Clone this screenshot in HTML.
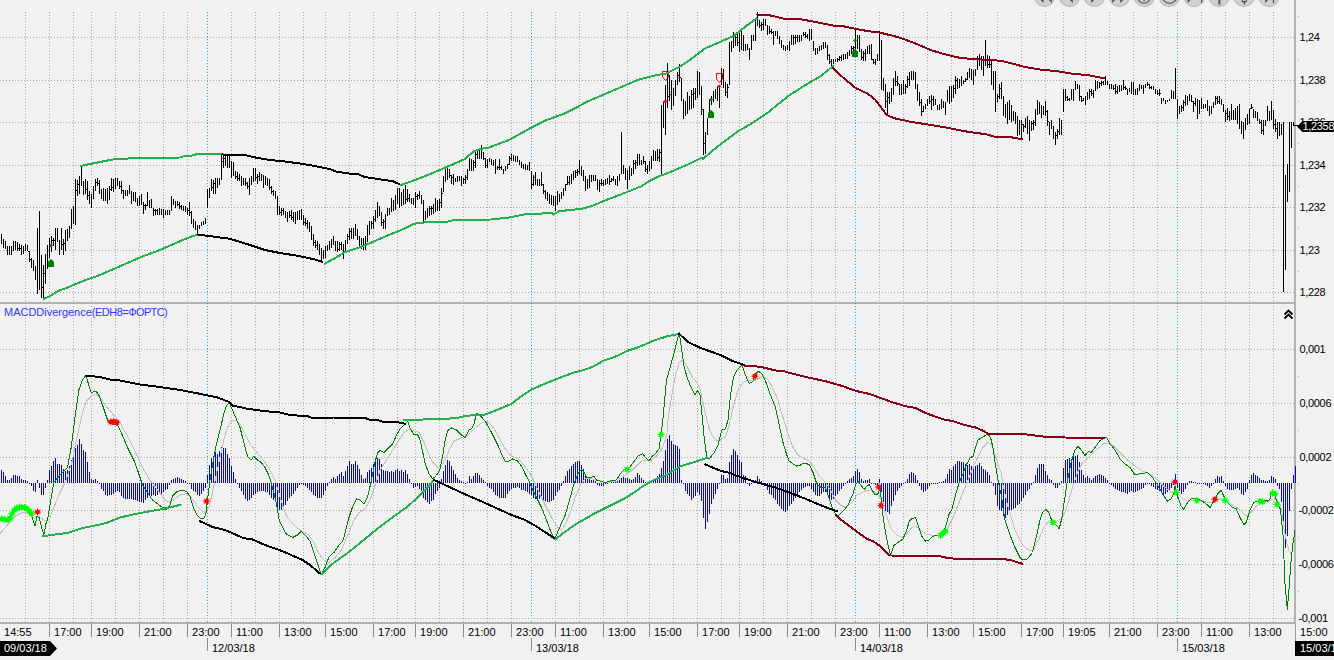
<!DOCTYPE html>
<html><head><meta charset="utf-8"><title>chart</title>
<style>
html,body{margin:0;padding:0;background:#f1f1f1;}
body{width:1334px;height:660px;overflow:hidden;position:relative;font-family:"Liberation Sans",sans-serif;font-size:11px;color:#000;}
svg{position:absolute;left:0;top:0;}
.t{position:absolute;white-space:nowrap;line-height:12px;height:12px;}
.y{letter-spacing:-0.33px;margin-left:-0.5px;}
.x{top:626px;letter-spacing:0.02px;}
.d{top:642px;}
</style></head><body>
<svg width="1334" height="660" viewBox="0 0 1334 660">

<g shape-rendering="crispEdges">
<rect x="0" y="302" width="1294" height="2" fill="#b2b2b2"/>
<rect x="0" y="622" width="1296" height="2" fill="#b2b2b2"/>
<rect x="1294" y="0" width="2" height="624" fill="#b2b2b2"/>
<rect x="1295" y="624" width="1" height="17" fill="#9a9a9a"/>
<rect x="1298" y="16" width="1" height="1" fill="#a8a8a8"/>
<rect x="1298" y="59" width="1" height="1" fill="#a8a8a8"/>
<rect x="1298" y="101" width="1" height="1" fill="#a8a8a8"/>
<rect x="1298" y="143" width="1" height="1" fill="#a8a8a8"/>
<rect x="1298" y="186" width="1" height="1" fill="#a8a8a8"/>
<rect x="1298" y="228" width="1" height="1" fill="#a8a8a8"/>
<rect x="1298" y="271" width="1" height="1" fill="#a8a8a8"/>
<rect x="1298" y="376" width="1" height="1" fill="#a8a8a8"/>
<rect x="1298" y="430" width="1" height="1" fill="#a8a8a8"/>
<rect x="1298" y="484" width="1" height="1" fill="#a8a8a8"/>
<rect x="1298" y="537" width="1" height="1" fill="#a8a8a8"/>
<rect x="1298" y="591" width="1" height="1" fill="#a8a8a8"/>
<rect x="49" y="624" width="1" height="13" fill="#8c8c8c"/>
<rect x="91" y="624" width="1" height="13" fill="#8c8c8c"/>
<rect x="139" y="624" width="1" height="13" fill="#8c8c8c"/>
<rect x="187" y="624" width="1" height="13" fill="#8c8c8c"/>
<rect x="231" y="624" width="1" height="13" fill="#8c8c8c"/>
<rect x="279" y="624" width="1" height="13" fill="#8c8c8c"/>
<rect x="325" y="624" width="1" height="13" fill="#8c8c8c"/>
<rect x="373" y="624" width="1" height="13" fill="#8c8c8c"/>
<rect x="415" y="624" width="1" height="13" fill="#8c8c8c"/>
<rect x="463" y="624" width="1" height="13" fill="#8c8c8c"/>
<rect x="511" y="624" width="1" height="13" fill="#8c8c8c"/>
<rect x="555" y="624" width="1" height="13" fill="#8c8c8c"/>
<rect x="603" y="624" width="1" height="13" fill="#8c8c8c"/>
<rect x="649" y="624" width="1" height="13" fill="#8c8c8c"/>
<rect x="697" y="624" width="1" height="13" fill="#8c8c8c"/>
<rect x="739" y="624" width="1" height="13" fill="#8c8c8c"/>
<rect x="787" y="624" width="1" height="13" fill="#8c8c8c"/>
<rect x="835" y="624" width="1" height="13" fill="#8c8c8c"/>
<rect x="879" y="624" width="1" height="13" fill="#8c8c8c"/>
<rect x="927" y="624" width="1" height="13" fill="#8c8c8c"/>
<rect x="973" y="624" width="1" height="13" fill="#8c8c8c"/>
<rect x="1021" y="624" width="1" height="13" fill="#8c8c8c"/>
<rect x="1063" y="624" width="1" height="13" fill="#8c8c8c"/>
<rect x="1109" y="624" width="1" height="13" fill="#8c8c8c"/>
<rect x="1157" y="624" width="1" height="13" fill="#8c8c8c"/>
<rect x="1201" y="624" width="1" height="13" fill="#8c8c8c"/>
<rect x="1249" y="624" width="1" height="13" fill="#8c8c8c"/>
<rect x="207" y="638" width="1" height="13" fill="#8c8c8c"/>
<rect x="531" y="638" width="1" height="13" fill="#8c8c8c"/>
<rect x="855" y="638" width="1" height="13" fill="#8c8c8c"/>
<rect x="1177" y="638" width="1" height="13" fill="#8c8c8c"/>
</g>
<g shape-rendering="crispEdges" fill="none">
<line x1="25.5" y1="12" x2="25.5" y2="622" stroke="#a9a9a9" stroke-dasharray="1 2"/>
<line x1="49.5" y1="12" x2="49.5" y2="622" stroke="#a9a9a9" stroke-dasharray="1 2"/>
<line x1="73.5" y1="12" x2="73.5" y2="622" stroke="#a9a9a9" stroke-dasharray="1 2"/>
<line x1="91.5" y1="12" x2="91.5" y2="622" stroke="#a9a9a9" stroke-dasharray="1 2"/>
<line x1="115.5" y1="12" x2="115.5" y2="622" stroke="#a9a9a9" stroke-dasharray="1 2"/>
<line x1="139.5" y1="12" x2="139.5" y2="622" stroke="#a9a9a9" stroke-dasharray="1 2"/>
<line x1="163.5" y1="12" x2="163.5" y2="622" stroke="#a9a9a9" stroke-dasharray="1 2"/>
<line x1="187.5" y1="12" x2="187.5" y2="622" stroke="#a9a9a9" stroke-dasharray="1 2"/>
<line x1="231.5" y1="12" x2="231.5" y2="622" stroke="#a9a9a9" stroke-dasharray="1 2"/>
<line x1="255.5" y1="12" x2="255.5" y2="622" stroke="#a9a9a9" stroke-dasharray="1 2"/>
<line x1="279.5" y1="12" x2="279.5" y2="622" stroke="#a9a9a9" stroke-dasharray="1 2"/>
<line x1="303.5" y1="12" x2="303.5" y2="622" stroke="#a9a9a9" stroke-dasharray="1 2"/>
<line x1="325.5" y1="12" x2="325.5" y2="622" stroke="#a9a9a9" stroke-dasharray="1 2"/>
<line x1="349.5" y1="12" x2="349.5" y2="622" stroke="#a9a9a9" stroke-dasharray="1 2"/>
<line x1="373.5" y1="12" x2="373.5" y2="622" stroke="#a9a9a9" stroke-dasharray="1 2"/>
<line x1="397.5" y1="12" x2="397.5" y2="622" stroke="#a9a9a9" stroke-dasharray="1 2"/>
<line x1="415.5" y1="12" x2="415.5" y2="622" stroke="#a9a9a9" stroke-dasharray="1 2"/>
<line x1="439.5" y1="12" x2="439.5" y2="622" stroke="#a9a9a9" stroke-dasharray="1 2"/>
<line x1="463.5" y1="12" x2="463.5" y2="622" stroke="#a9a9a9" stroke-dasharray="1 2"/>
<line x1="487.5" y1="12" x2="487.5" y2="622" stroke="#a9a9a9" stroke-dasharray="1 2"/>
<line x1="511.5" y1="12" x2="511.5" y2="622" stroke="#a9a9a9" stroke-dasharray="1 2"/>
<line x1="555.5" y1="12" x2="555.5" y2="622" stroke="#a9a9a9" stroke-dasharray="1 2"/>
<line x1="579.5" y1="12" x2="579.5" y2="622" stroke="#a9a9a9" stroke-dasharray="1 2"/>
<line x1="603.5" y1="12" x2="603.5" y2="622" stroke="#a9a9a9" stroke-dasharray="1 2"/>
<line x1="627.5" y1="12" x2="627.5" y2="622" stroke="#a9a9a9" stroke-dasharray="1 2"/>
<line x1="649.5" y1="12" x2="649.5" y2="622" stroke="#a9a9a9" stroke-dasharray="1 2"/>
<line x1="673.5" y1="12" x2="673.5" y2="622" stroke="#a9a9a9" stroke-dasharray="1 2"/>
<line x1="697.5" y1="12" x2="697.5" y2="622" stroke="#a9a9a9" stroke-dasharray="1 2"/>
<line x1="721.5" y1="12" x2="721.5" y2="622" stroke="#a9a9a9" stroke-dasharray="1 2"/>
<line x1="739.5" y1="12" x2="739.5" y2="622" stroke="#a9a9a9" stroke-dasharray="1 2"/>
<line x1="763.5" y1="12" x2="763.5" y2="622" stroke="#a9a9a9" stroke-dasharray="1 2"/>
<line x1="787.5" y1="12" x2="787.5" y2="622" stroke="#a9a9a9" stroke-dasharray="1 2"/>
<line x1="811.5" y1="12" x2="811.5" y2="622" stroke="#a9a9a9" stroke-dasharray="1 2"/>
<line x1="835.5" y1="12" x2="835.5" y2="622" stroke="#a9a9a9" stroke-dasharray="1 2"/>
<line x1="879.5" y1="12" x2="879.5" y2="622" stroke="#a9a9a9" stroke-dasharray="1 2"/>
<line x1="903.5" y1="12" x2="903.5" y2="622" stroke="#a9a9a9" stroke-dasharray="1 2"/>
<line x1="927.5" y1="12" x2="927.5" y2="622" stroke="#a9a9a9" stroke-dasharray="1 2"/>
<line x1="951.5" y1="12" x2="951.5" y2="622" stroke="#a9a9a9" stroke-dasharray="1 2"/>
<line x1="973.5" y1="12" x2="973.5" y2="622" stroke="#a9a9a9" stroke-dasharray="1 2"/>
<line x1="997.5" y1="12" x2="997.5" y2="622" stroke="#a9a9a9" stroke-dasharray="1 2"/>
<line x1="1021.5" y1="12" x2="1021.5" y2="622" stroke="#a9a9a9" stroke-dasharray="1 2"/>
<line x1="1045.5" y1="12" x2="1045.5" y2="622" stroke="#a9a9a9" stroke-dasharray="1 2"/>
<line x1="1063.5" y1="12" x2="1063.5" y2="622" stroke="#a9a9a9" stroke-dasharray="1 2"/>
<line x1="1085.5" y1="12" x2="1085.5" y2="622" stroke="#a9a9a9" stroke-dasharray="1 2"/>
<line x1="1109.5" y1="12" x2="1109.5" y2="622" stroke="#a9a9a9" stroke-dasharray="1 2"/>
<line x1="1133.5" y1="12" x2="1133.5" y2="622" stroke="#a9a9a9" stroke-dasharray="1 2"/>
<line x1="1157.5" y1="12" x2="1157.5" y2="622" stroke="#a9a9a9" stroke-dasharray="1 2"/>
<line x1="1201.5" y1="12" x2="1201.5" y2="622" stroke="#a9a9a9" stroke-dasharray="1 2"/>
<line x1="1225.5" y1="12" x2="1225.5" y2="622" stroke="#a9a9a9" stroke-dasharray="1 2"/>
<line x1="1249.5" y1="12" x2="1249.5" y2="622" stroke="#a9a9a9" stroke-dasharray="1 2"/>
<line x1="1273.5" y1="12" x2="1273.5" y2="622" stroke="#a9a9a9" stroke-dasharray="1 2"/>
<line x1="207.5" y1="12" x2="207.5" y2="622" stroke="#2aa5e6" stroke-dasharray="1 2"/>
<line x1="531.5" y1="12" x2="531.5" y2="622" stroke="#2aa5e6" stroke-dasharray="1 2"/>
<line x1="855.5" y1="12" x2="855.5" y2="622" stroke="#2aa5e6" stroke-dasharray="1 2"/>
<line x1="1177.5" y1="12" x2="1177.5" y2="622" stroke="#2aa5e6" stroke-dasharray="1 2"/>
<line x1="0" y1="37.5" x2="1294" y2="37.5" stroke="#a9a9a9" stroke-dasharray="1 2"/>
<line x1="0" y1="80.5" x2="1294" y2="80.5" stroke="#a9a9a9" stroke-dasharray="1 2"/>
<line x1="0" y1="122.5" x2="1294" y2="122.5" stroke="#a9a9a9" stroke-dasharray="1 2"/>
<line x1="0" y1="165.5" x2="1294" y2="165.5" stroke="#a9a9a9" stroke-dasharray="1 2"/>
<line x1="0" y1="207.5" x2="1294" y2="207.5" stroke="#a9a9a9" stroke-dasharray="1 2"/>
<line x1="0" y1="250.5" x2="1294" y2="250.5" stroke="#a9a9a9" stroke-dasharray="1 2"/>
<line x1="0" y1="292.5" x2="1294" y2="292.5" stroke="#a9a9a9" stroke-dasharray="1 2"/>
<line x1="0" y1="349.5" x2="1294" y2="349.5" stroke="#a9a9a9" stroke-dasharray="1 2"/>
<line x1="0" y1="403.5" x2="1294" y2="403.5" stroke="#a9a9a9" stroke-dasharray="1 2"/>
<line x1="0" y1="457.5" x2="1294" y2="457.5" stroke="#a9a9a9" stroke-dasharray="1 2"/>
<line x1="0" y1="510.5" x2="1294" y2="510.5" stroke="#a9a9a9" stroke-dasharray="1 2"/>
<line x1="0" y1="564.5" x2="1294" y2="564.5" stroke="#a9a9a9" stroke-dasharray="1 2"/>
<line x1="0" y1="618.5" x2="1294" y2="618.5" stroke="#a9a9a9" stroke-dasharray="1 2"/>
</g>
<g shape-rendering="crispEdges" fill="#0000ff">
<rect x="1" y="470" width="1" height="13"/>
<rect x="3" y="472" width="1" height="11"/>
<rect x="5" y="476" width="1" height="7"/>
<rect x="7" y="480" width="1" height="3"/>
<rect x="9" y="480" width="1" height="3"/>
<rect x="11" y="478" width="1" height="5"/>
<rect x="13" y="475" width="1" height="8"/>
<rect x="15" y="475" width="1" height="8"/>
<rect x="17" y="476" width="1" height="7"/>
<rect x="19" y="476" width="1" height="7"/>
<rect x="21" y="479" width="1" height="4"/>
<rect x="23" y="480" width="1" height="3"/>
<rect x="25" y="480" width="1" height="3"/>
<rect x="27" y="481" width="1" height="2"/>
<rect x="29" y="483" width="1" height="1"/>
<rect x="31" y="483" width="1" height="3"/>
<rect x="33" y="483" width="1" height="8"/>
<rect x="35" y="483" width="1" height="9"/>
<rect x="37" y="480" width="1" height="3"/>
<rect x="39" y="483" width="1" height="5"/>
<rect x="41" y="483" width="1" height="12"/>
<rect x="43" y="483" width="1" height="12"/>
<rect x="45" y="483" width="1" height="5"/>
<rect x="47" y="480" width="1" height="3"/>
<rect x="49" y="470" width="1" height="13"/>
<rect x="51" y="466" width="1" height="17"/>
<rect x="53" y="461" width="1" height="22"/>
<rect x="55" y="458" width="1" height="25"/>
<rect x="57" y="464" width="1" height="19"/>
<rect x="59" y="464" width="1" height="19"/>
<rect x="61" y="465" width="1" height="18"/>
<rect x="63" y="469" width="1" height="14"/>
<rect x="65" y="471" width="1" height="12"/>
<rect x="67" y="470" width="1" height="13"/>
<rect x="69" y="466" width="1" height="17"/>
<rect x="71" y="460" width="1" height="23"/>
<rect x="73" y="456" width="1" height="27"/>
<rect x="75" y="448" width="1" height="35"/>
<rect x="77" y="445" width="1" height="38"/>
<rect x="79" y="439" width="1" height="44"/>
<rect x="81" y="444" width="1" height="39"/>
<rect x="83" y="450" width="1" height="33"/>
<rect x="85" y="452" width="1" height="31"/>
<rect x="87" y="462" width="1" height="21"/>
<rect x="89" y="472" width="1" height="11"/>
<rect x="91" y="479" width="1" height="4"/>
<rect x="93" y="480" width="1" height="3"/>
<rect x="95" y="479" width="1" height="4"/>
<rect x="97" y="481" width="1" height="2"/>
<rect x="99" y="483" width="1" height="1"/>
<rect x="101" y="483" width="1" height="6"/>
<rect x="103" y="483" width="1" height="8"/>
<rect x="105" y="483" width="1" height="12"/>
<rect x="107" y="483" width="1" height="13"/>
<rect x="109" y="483" width="1" height="12"/>
<rect x="111" y="483" width="1" height="12"/>
<rect x="113" y="483" width="1" height="11"/>
<rect x="115" y="483" width="1" height="9"/>
<rect x="117" y="483" width="1" height="8"/>
<rect x="119" y="483" width="1" height="9"/>
<rect x="121" y="483" width="1" height="13"/>
<rect x="123" y="483" width="1" height="15"/>
<rect x="125" y="483" width="1" height="16"/>
<rect x="127" y="483" width="1" height="16"/>
<rect x="129" y="483" width="1" height="16"/>
<rect x="131" y="483" width="1" height="16"/>
<rect x="133" y="483" width="1" height="17"/>
<rect x="135" y="483" width="1" height="17"/>
<rect x="137" y="483" width="1" height="18"/>
<rect x="139" y="483" width="1" height="19"/>
<rect x="141" y="483" width="1" height="19"/>
<rect x="143" y="483" width="1" height="20"/>
<rect x="145" y="483" width="1" height="17"/>
<rect x="147" y="483" width="1" height="15"/>
<rect x="149" y="483" width="1" height="12"/>
<rect x="151" y="483" width="1" height="13"/>
<rect x="153" y="483" width="1" height="12"/>
<rect x="155" y="483" width="1" height="13"/>
<rect x="157" y="483" width="1" height="12"/>
<rect x="159" y="483" width="1" height="11"/>
<rect x="161" y="483" width="1" height="11"/>
<rect x="163" y="483" width="1" height="9"/>
<rect x="165" y="483" width="1" height="7"/>
<rect x="167" y="483" width="1" height="6"/>
<rect x="169" y="483" width="1" height="2"/>
<rect x="171" y="480" width="1" height="3"/>
<rect x="173" y="479" width="1" height="4"/>
<rect x="175" y="478" width="1" height="5"/>
<rect x="177" y="477" width="1" height="6"/>
<rect x="179" y="478" width="1" height="5"/>
<rect x="181" y="479" width="1" height="4"/>
<rect x="183" y="480" width="1" height="3"/>
<rect x="185" y="481" width="1" height="2"/>
<rect x="187" y="483" width="1" height="1"/>
<rect x="189" y="483" width="1" height="1"/>
<rect x="191" y="483" width="1" height="6"/>
<rect x="193" y="483" width="1" height="8"/>
<rect x="195" y="483" width="1" height="9"/>
<rect x="197" y="483" width="1" height="12"/>
<rect x="199" y="483" width="1" height="13"/>
<rect x="201" y="483" width="1" height="11"/>
<rect x="203" y="483" width="1" height="8"/>
<rect x="205" y="483" width="1" height="5"/>
<rect x="207" y="475" width="1" height="8"/>
<rect x="209" y="465" width="1" height="18"/>
<rect x="211" y="458" width="1" height="25"/>
<rect x="213" y="456" width="1" height="27"/>
<rect x="215" y="452" width="1" height="31"/>
<rect x="217" y="454" width="1" height="29"/>
<rect x="219" y="451" width="1" height="32"/>
<rect x="221" y="447" width="1" height="36"/>
<rect x="223" y="448" width="1" height="35"/>
<rect x="225" y="448" width="1" height="35"/>
<rect x="227" y="454" width="1" height="29"/>
<rect x="229" y="458" width="1" height="25"/>
<rect x="231" y="466" width="1" height="17"/>
<rect x="233" y="472" width="1" height="11"/>
<rect x="235" y="479" width="1" height="4"/>
<rect x="237" y="483" width="1" height="1"/>
<rect x="239" y="483" width="1" height="5"/>
<rect x="241" y="483" width="1" height="8"/>
<rect x="243" y="483" width="1" height="12"/>
<rect x="245" y="483" width="1" height="16"/>
<rect x="247" y="483" width="1" height="18"/>
<rect x="249" y="483" width="1" height="17"/>
<rect x="251" y="483" width="1" height="15"/>
<rect x="253" y="483" width="1" height="12"/>
<rect x="255" y="483" width="1" height="11"/>
<rect x="257" y="483" width="1" height="9"/>
<rect x="259" y="483" width="1" height="8"/>
<rect x="261" y="483" width="1" height="8"/>
<rect x="263" y="483" width="1" height="8"/>
<rect x="265" y="483" width="1" height="9"/>
<rect x="267" y="483" width="1" height="9"/>
<rect x="269" y="483" width="1" height="12"/>
<rect x="271" y="483" width="1" height="15"/>
<rect x="273" y="483" width="1" height="17"/>
<rect x="275" y="483" width="1" height="19"/>
<rect x="277" y="483" width="1" height="25"/>
<rect x="279" y="483" width="1" height="27"/>
<rect x="281" y="483" width="1" height="27"/>
<rect x="283" y="483" width="1" height="26"/>
<rect x="285" y="483" width="1" height="22"/>
<rect x="287" y="483" width="1" height="18"/>
<rect x="289" y="483" width="1" height="15"/>
<rect x="291" y="483" width="1" height="13"/>
<rect x="293" y="483" width="1" height="11"/>
<rect x="295" y="483" width="1" height="8"/>
<rect x="297" y="483" width="1" height="5"/>
<rect x="299" y="483" width="1" height="2"/>
<rect x="301" y="483" width="1" height="1"/>
<rect x="303" y="483" width="1" height="2"/>
<rect x="305" y="483" width="1" height="3"/>
<rect x="307" y="483" width="1" height="5"/>
<rect x="309" y="483" width="1" height="7"/>
<rect x="311" y="483" width="1" height="9"/>
<rect x="313" y="483" width="1" height="12"/>
<rect x="315" y="483" width="1" height="13"/>
<rect x="317" y="483" width="1" height="15"/>
<rect x="319" y="483" width="1" height="15"/>
<rect x="321" y="483" width="1" height="15"/>
<rect x="323" y="483" width="1" height="12"/>
<rect x="325" y="483" width="1" height="8"/>
<rect x="327" y="483" width="1" height="3"/>
<rect x="329" y="482" width="1" height="1"/>
<rect x="331" y="479" width="1" height="4"/>
<rect x="333" y="477" width="1" height="6"/>
<rect x="335" y="479" width="1" height="4"/>
<rect x="337" y="476" width="1" height="7"/>
<rect x="339" y="474" width="1" height="9"/>
<rect x="341" y="472" width="1" height="11"/>
<rect x="343" y="476" width="1" height="7"/>
<rect x="345" y="471" width="1" height="12"/>
<rect x="347" y="466" width="1" height="17"/>
<rect x="349" y="461" width="1" height="22"/>
<rect x="351" y="464" width="1" height="19"/>
<rect x="353" y="464" width="1" height="19"/>
<rect x="355" y="461" width="1" height="22"/>
<rect x="357" y="465" width="1" height="18"/>
<rect x="359" y="469" width="1" height="14"/>
<rect x="361" y="475" width="1" height="8"/>
<rect x="363" y="479" width="1" height="4"/>
<rect x="365" y="478" width="1" height="5"/>
<rect x="367" y="472" width="1" height="11"/>
<rect x="369" y="470" width="1" height="13"/>
<rect x="371" y="468" width="1" height="15"/>
<rect x="373" y="464" width="1" height="19"/>
<rect x="375" y="461" width="1" height="22"/>
<rect x="377" y="458" width="1" height="25"/>
<rect x="379" y="459" width="1" height="24"/>
<rect x="381" y="464" width="1" height="19"/>
<rect x="383" y="470" width="1" height="13"/>
<rect x="385" y="471" width="1" height="12"/>
<rect x="387" y="471" width="1" height="12"/>
<rect x="389" y="472" width="1" height="11"/>
<rect x="391" y="471" width="1" height="12"/>
<rect x="393" y="472" width="1" height="11"/>
<rect x="395" y="470" width="1" height="13"/>
<rect x="397" y="469" width="1" height="14"/>
<rect x="399" y="471" width="1" height="12"/>
<rect x="401" y="470" width="1" height="13"/>
<rect x="403" y="472" width="1" height="11"/>
<rect x="405" y="470" width="1" height="13"/>
<rect x="407" y="474" width="1" height="9"/>
<rect x="409" y="479" width="1" height="4"/>
<rect x="411" y="483" width="1" height="1"/>
<rect x="413" y="483" width="1" height="5"/>
<rect x="415" y="483" width="1" height="4"/>
<rect x="417" y="483" width="1" height="3"/>
<rect x="419" y="483" width="1" height="6"/>
<rect x="421" y="483" width="1" height="8"/>
<rect x="423" y="483" width="1" height="15"/>
<rect x="425" y="483" width="1" height="17"/>
<rect x="427" y="483" width="1" height="19"/>
<rect x="429" y="483" width="1" height="21"/>
<rect x="431" y="483" width="1" height="18"/>
<rect x="433" y="483" width="1" height="17"/>
<rect x="435" y="483" width="1" height="11"/>
<rect x="437" y="483" width="1" height="8"/>
<rect x="439" y="483" width="1" height="5"/>
<rect x="441" y="479" width="1" height="4"/>
<rect x="443" y="471" width="1" height="12"/>
<rect x="445" y="465" width="1" height="18"/>
<rect x="447" y="460" width="1" height="23"/>
<rect x="449" y="461" width="1" height="22"/>
<rect x="451" y="466" width="1" height="17"/>
<rect x="453" y="470" width="1" height="13"/>
<rect x="455" y="474" width="1" height="9"/>
<rect x="457" y="478" width="1" height="5"/>
<rect x="459" y="480" width="1" height="3"/>
<rect x="461" y="481" width="1" height="2"/>
<rect x="463" y="482" width="1" height="1"/>
<rect x="465" y="483" width="1" height="1"/>
<rect x="467" y="482" width="1" height="1"/>
<rect x="469" y="476" width="1" height="7"/>
<rect x="471" y="479" width="1" height="4"/>
<rect x="473" y="476" width="1" height="7"/>
<rect x="475" y="473" width="1" height="10"/>
<rect x="477" y="473" width="1" height="10"/>
<rect x="479" y="475" width="1" height="8"/>
<rect x="481" y="478" width="1" height="5"/>
<rect x="483" y="480" width="1" height="3"/>
<rect x="485" y="482" width="1" height="1"/>
<rect x="487" y="483" width="1" height="3"/>
<rect x="489" y="483" width="1" height="5"/>
<rect x="491" y="483" width="1" height="6"/>
<rect x="493" y="483" width="1" height="9"/>
<rect x="495" y="483" width="1" height="12"/>
<rect x="497" y="483" width="1" height="13"/>
<rect x="499" y="483" width="1" height="15"/>
<rect x="501" y="483" width="1" height="15"/>
<rect x="503" y="483" width="1" height="15"/>
<rect x="505" y="483" width="1" height="15"/>
<rect x="507" y="483" width="1" height="11"/>
<rect x="509" y="483" width="1" height="8"/>
<rect x="511" y="483" width="1" height="6"/>
<rect x="513" y="483" width="1" height="5"/>
<rect x="515" y="483" width="1" height="5"/>
<rect x="517" y="483" width="1" height="4"/>
<rect x="519" y="483" width="1" height="5"/>
<rect x="521" y="483" width="1" height="7"/>
<rect x="523" y="483" width="1" height="7"/>
<rect x="525" y="483" width="1" height="8"/>
<rect x="527" y="483" width="1" height="9"/>
<rect x="529" y="483" width="1" height="11"/>
<rect x="531" y="483" width="1" height="12"/>
<rect x="533" y="483" width="1" height="15"/>
<rect x="535" y="483" width="1" height="16"/>
<rect x="537" y="483" width="1" height="17"/>
<rect x="539" y="483" width="1" height="16"/>
<rect x="541" y="483" width="1" height="15"/>
<rect x="543" y="483" width="1" height="17"/>
<rect x="545" y="483" width="1" height="18"/>
<rect x="547" y="483" width="1" height="19"/>
<rect x="549" y="483" width="1" height="19"/>
<rect x="551" y="483" width="1" height="18"/>
<rect x="553" y="483" width="1" height="17"/>
<rect x="555" y="483" width="1" height="13"/>
<rect x="557" y="483" width="1" height="9"/>
<rect x="559" y="483" width="1" height="7"/>
<rect x="561" y="483" width="1" height="3"/>
<rect x="563" y="481" width="1" height="2"/>
<rect x="565" y="476" width="1" height="7"/>
<rect x="567" y="471" width="1" height="12"/>
<rect x="569" y="469" width="1" height="14"/>
<rect x="571" y="466" width="1" height="17"/>
<rect x="573" y="464" width="1" height="19"/>
<rect x="575" y="462" width="1" height="21"/>
<rect x="577" y="461" width="1" height="22"/>
<rect x="579" y="461" width="1" height="22"/>
<rect x="581" y="465" width="1" height="18"/>
<rect x="583" y="469" width="1" height="14"/>
<rect x="585" y="475" width="1" height="8"/>
<rect x="587" y="478" width="1" height="5"/>
<rect x="589" y="479" width="1" height="4"/>
<rect x="591" y="480" width="1" height="3"/>
<rect x="593" y="480" width="1" height="3"/>
<rect x="595" y="481" width="1" height="2"/>
<rect x="597" y="483" width="1" height="2"/>
<rect x="599" y="483" width="1" height="3"/>
<rect x="601" y="483" width="1" height="3"/>
<rect x="603" y="483" width="1" height="3"/>
<rect x="605" y="483" width="1" height="1"/>
<rect x="607" y="483" width="1" height="1"/>
<rect x="609" y="482" width="1" height="1"/>
<rect x="611" y="482" width="1" height="1"/>
<rect x="613" y="482" width="1" height="1"/>
<rect x="615" y="482" width="1" height="1"/>
<rect x="617" y="481" width="1" height="2"/>
<rect x="619" y="480" width="1" height="3"/>
<rect x="621" y="477" width="1" height="6"/>
<rect x="623" y="476" width="1" height="7"/>
<rect x="625" y="478" width="1" height="5"/>
<rect x="627" y="478" width="1" height="5"/>
<rect x="629" y="479" width="1" height="4"/>
<rect x="631" y="480" width="1" height="3"/>
<rect x="633" y="479" width="1" height="4"/>
<rect x="635" y="477" width="1" height="6"/>
<rect x="637" y="473" width="1" height="10"/>
<rect x="639" y="475" width="1" height="8"/>
<rect x="641" y="478" width="1" height="5"/>
<rect x="643" y="480" width="1" height="3"/>
<rect x="645" y="482" width="1" height="1"/>
<rect x="647" y="482" width="1" height="1"/>
<rect x="649" y="481" width="1" height="2"/>
<rect x="651" y="480" width="1" height="3"/>
<rect x="653" y="480" width="1" height="3"/>
<rect x="655" y="478" width="1" height="5"/>
<rect x="657" y="476" width="1" height="7"/>
<rect x="659" y="474" width="1" height="9"/>
<rect x="661" y="468" width="1" height="15"/>
<rect x="663" y="461" width="1" height="22"/>
<rect x="665" y="450" width="1" height="33"/>
<rect x="667" y="439" width="1" height="44"/>
<rect x="669" y="435" width="1" height="48"/>
<rect x="671" y="441" width="1" height="42"/>
<rect x="673" y="444" width="1" height="39"/>
<rect x="675" y="445" width="1" height="38"/>
<rect x="677" y="446" width="1" height="37"/>
<rect x="679" y="449" width="1" height="34"/>
<rect x="681" y="480" width="1" height="3"/>
<rect x="683" y="483" width="1" height="1"/>
<rect x="685" y="483" width="1" height="8"/>
<rect x="687" y="483" width="1" height="11"/>
<rect x="689" y="483" width="1" height="13"/>
<rect x="691" y="483" width="1" height="17"/>
<rect x="693" y="483" width="1" height="15"/>
<rect x="695" y="483" width="1" height="13"/>
<rect x="697" y="483" width="1" height="9"/>
<rect x="699" y="483" width="1" height="12"/>
<rect x="701" y="483" width="1" height="18"/>
<rect x="703" y="483" width="1" height="35"/>
<rect x="705" y="483" width="1" height="46"/>
<rect x="707" y="483" width="1" height="39"/>
<rect x="709" y="483" width="1" height="31"/>
<rect x="711" y="483" width="1" height="21"/>
<rect x="713" y="483" width="1" height="16"/>
<rect x="715" y="483" width="1" height="11"/>
<rect x="717" y="483" width="1" height="6"/>
<rect x="719" y="483" width="1" height="1"/>
<rect x="721" y="475" width="1" height="8"/>
<rect x="723" y="475" width="1" height="8"/>
<rect x="725" y="479" width="1" height="4"/>
<rect x="727" y="478" width="1" height="5"/>
<rect x="729" y="462" width="1" height="21"/>
<rect x="731" y="455" width="1" height="28"/>
<rect x="733" y="449" width="1" height="34"/>
<rect x="735" y="451" width="1" height="32"/>
<rect x="737" y="455" width="1" height="28"/>
<rect x="739" y="460" width="1" height="23"/>
<rect x="741" y="462" width="1" height="21"/>
<rect x="743" y="475" width="1" height="8"/>
<rect x="745" y="476" width="1" height="7"/>
<rect x="747" y="483" width="1" height="1"/>
<rect x="749" y="483" width="1" height="3"/>
<rect x="751" y="483" width="1" height="1"/>
<rect x="753" y="481" width="1" height="2"/>
<rect x="755" y="480" width="1" height="3"/>
<rect x="757" y="476" width="1" height="7"/>
<rect x="759" y="479" width="1" height="4"/>
<rect x="761" y="481" width="1" height="2"/>
<rect x="763" y="483" width="1" height="1"/>
<rect x="765" y="483" width="1" height="3"/>
<rect x="767" y="483" width="1" height="7"/>
<rect x="769" y="483" width="1" height="11"/>
<rect x="771" y="483" width="1" height="12"/>
<rect x="773" y="483" width="1" height="15"/>
<rect x="775" y="483" width="1" height="17"/>
<rect x="777" y="483" width="1" height="21"/>
<rect x="779" y="483" width="1" height="23"/>
<rect x="781" y="483" width="1" height="26"/>
<rect x="783" y="483" width="1" height="28"/>
<rect x="785" y="483" width="1" height="29"/>
<rect x="787" y="483" width="1" height="27"/>
<rect x="789" y="483" width="1" height="23"/>
<rect x="791" y="483" width="1" height="21"/>
<rect x="793" y="483" width="1" height="18"/>
<rect x="795" y="483" width="1" height="15"/>
<rect x="797" y="483" width="1" height="12"/>
<rect x="799" y="483" width="1" height="9"/>
<rect x="801" y="483" width="1" height="7"/>
<rect x="803" y="483" width="1" height="5"/>
<rect x="805" y="483" width="1" height="4"/>
<rect x="807" y="483" width="1" height="3"/>
<rect x="809" y="483" width="1" height="3"/>
<rect x="811" y="483" width="1" height="6"/>
<rect x="813" y="483" width="1" height="9"/>
<rect x="815" y="483" width="1" height="12"/>
<rect x="817" y="483" width="1" height="13"/>
<rect x="819" y="483" width="1" height="13"/>
<rect x="821" y="483" width="1" height="11"/>
<rect x="823" y="483" width="1" height="9"/>
<rect x="825" y="483" width="1" height="9"/>
<rect x="827" y="483" width="1" height="12"/>
<rect x="829" y="483" width="1" height="16"/>
<rect x="831" y="483" width="1" height="17"/>
<rect x="833" y="483" width="1" height="16"/>
<rect x="835" y="483" width="1" height="13"/>
<rect x="837" y="483" width="1" height="11"/>
<rect x="839" y="483" width="1" height="8"/>
<rect x="841" y="483" width="1" height="6"/>
<rect x="843" y="483" width="1" height="3"/>
<rect x="845" y="483" width="1" height="1"/>
<rect x="847" y="481" width="1" height="2"/>
<rect x="849" y="479" width="1" height="4"/>
<rect x="851" y="478" width="1" height="5"/>
<rect x="853" y="476" width="1" height="7"/>
<rect x="855" y="471" width="1" height="12"/>
<rect x="857" y="469" width="1" height="14"/>
<rect x="859" y="472" width="1" height="11"/>
<rect x="861" y="479" width="1" height="4"/>
<rect x="863" y="481" width="1" height="2"/>
<rect x="865" y="480" width="1" height="3"/>
<rect x="867" y="480" width="1" height="3"/>
<rect x="869" y="479" width="1" height="4"/>
<rect x="871" y="483" width="1" height="1"/>
<rect x="873" y="483" width="1" height="1"/>
<rect x="875" y="483" width="1" height="2"/>
<rect x="877" y="483" width="1" height="3"/>
<rect x="879" y="479" width="1" height="4"/>
<rect x="881" y="483" width="1" height="9"/>
<rect x="883" y="483" width="1" height="19"/>
<rect x="885" y="483" width="1" height="28"/>
<rect x="887" y="483" width="1" height="29"/>
<rect x="889" y="483" width="1" height="31"/>
<rect x="891" y="483" width="1" height="23"/>
<rect x="893" y="483" width="1" height="18"/>
<rect x="895" y="483" width="1" height="12"/>
<rect x="897" y="483" width="1" height="8"/>
<rect x="899" y="483" width="1" height="5"/>
<rect x="901" y="483" width="1" height="3"/>
<rect x="903" y="483" width="1" height="1"/>
<rect x="905" y="482" width="1" height="1"/>
<rect x="907" y="479" width="1" height="4"/>
<rect x="909" y="474" width="1" height="9"/>
<rect x="911" y="472" width="1" height="11"/>
<rect x="913" y="473" width="1" height="10"/>
<rect x="915" y="475" width="1" height="8"/>
<rect x="917" y="480" width="1" height="3"/>
<rect x="919" y="483" width="1" height="3"/>
<rect x="921" y="483" width="1" height="7"/>
<rect x="923" y="483" width="1" height="9"/>
<rect x="925" y="483" width="1" height="8"/>
<rect x="927" y="483" width="1" height="6"/>
<rect x="929" y="483" width="1" height="3"/>
<rect x="931" y="483" width="1" height="1"/>
<rect x="933" y="483" width="1" height="1"/>
<rect x="935" y="483" width="1" height="1"/>
<rect x="937" y="483" width="1" height="1"/>
<rect x="939" y="482" width="1" height="1"/>
<rect x="941" y="482" width="1" height="1"/>
<rect x="943" y="481" width="1" height="2"/>
<rect x="945" y="479" width="1" height="4"/>
<rect x="947" y="474" width="1" height="9"/>
<rect x="949" y="469" width="1" height="14"/>
<rect x="951" y="470" width="1" height="13"/>
<rect x="953" y="466" width="1" height="17"/>
<rect x="955" y="464" width="1" height="19"/>
<rect x="957" y="461" width="1" height="22"/>
<rect x="959" y="461" width="1" height="22"/>
<rect x="961" y="462" width="1" height="21"/>
<rect x="963" y="462" width="1" height="21"/>
<rect x="965" y="464" width="1" height="19"/>
<rect x="967" y="465" width="1" height="18"/>
<rect x="969" y="464" width="1" height="19"/>
<rect x="971" y="466" width="1" height="17"/>
<rect x="973" y="469" width="1" height="14"/>
<rect x="975" y="466" width="1" height="17"/>
<rect x="977" y="465" width="1" height="18"/>
<rect x="979" y="463" width="1" height="20"/>
<rect x="981" y="466" width="1" height="17"/>
<rect x="983" y="469" width="1" height="14"/>
<rect x="985" y="470" width="1" height="13"/>
<rect x="987" y="472" width="1" height="11"/>
<rect x="989" y="475" width="1" height="8"/>
<rect x="991" y="482" width="1" height="1"/>
<rect x="993" y="483" width="1" height="3"/>
<rect x="995" y="483" width="1" height="12"/>
<rect x="997" y="483" width="1" height="23"/>
<rect x="999" y="483" width="1" height="27"/>
<rect x="1001" y="483" width="1" height="28"/>
<rect x="1003" y="483" width="1" height="33"/>
<rect x="1005" y="483" width="1" height="35"/>
<rect x="1007" y="483" width="1" height="32"/>
<rect x="1009" y="483" width="1" height="29"/>
<rect x="1011" y="483" width="1" height="27"/>
<rect x="1013" y="483" width="1" height="26"/>
<rect x="1015" y="483" width="1" height="25"/>
<rect x="1017" y="483" width="1" height="22"/>
<rect x="1019" y="483" width="1" height="21"/>
<rect x="1021" y="483" width="1" height="18"/>
<rect x="1023" y="483" width="1" height="15"/>
<rect x="1025" y="483" width="1" height="12"/>
<rect x="1027" y="483" width="1" height="8"/>
<rect x="1029" y="483" width="1" height="6"/>
<rect x="1031" y="483" width="1" height="2"/>
<rect x="1033" y="482" width="1" height="1"/>
<rect x="1035" y="475" width="1" height="8"/>
<rect x="1037" y="468" width="1" height="15"/>
<rect x="1039" y="464" width="1" height="19"/>
<rect x="1041" y="464" width="1" height="19"/>
<rect x="1043" y="464" width="1" height="19"/>
<rect x="1045" y="471" width="1" height="12"/>
<rect x="1047" y="475" width="1" height="8"/>
<rect x="1049" y="479" width="1" height="4"/>
<rect x="1051" y="480" width="1" height="3"/>
<rect x="1053" y="483" width="1" height="2"/>
<rect x="1055" y="483" width="1" height="5"/>
<rect x="1057" y="483" width="1" height="5"/>
<rect x="1059" y="483" width="1" height="2"/>
<rect x="1061" y="481" width="1" height="2"/>
<rect x="1063" y="468" width="1" height="15"/>
<rect x="1065" y="460" width="1" height="23"/>
<rect x="1067" y="459" width="1" height="24"/>
<rect x="1069" y="458" width="1" height="25"/>
<rect x="1071" y="459" width="1" height="24"/>
<rect x="1073" y="456" width="1" height="27"/>
<rect x="1075" y="456" width="1" height="27"/>
<rect x="1077" y="455" width="1" height="28"/>
<rect x="1079" y="462" width="1" height="21"/>
<rect x="1081" y="470" width="1" height="13"/>
<rect x="1083" y="475" width="1" height="8"/>
<rect x="1085" y="478" width="1" height="5"/>
<rect x="1087" y="476" width="1" height="7"/>
<rect x="1089" y="478" width="1" height="5"/>
<rect x="1091" y="480" width="1" height="3"/>
<rect x="1093" y="478" width="1" height="5"/>
<rect x="1095" y="476" width="1" height="7"/>
<rect x="1097" y="475" width="1" height="8"/>
<rect x="1099" y="474" width="1" height="9"/>
<rect x="1101" y="475" width="1" height="8"/>
<rect x="1103" y="476" width="1" height="7"/>
<rect x="1105" y="478" width="1" height="5"/>
<rect x="1107" y="480" width="1" height="3"/>
<rect x="1109" y="483" width="1" height="1"/>
<rect x="1111" y="483" width="1" height="2"/>
<rect x="1113" y="483" width="1" height="4"/>
<rect x="1115" y="483" width="1" height="6"/>
<rect x="1117" y="483" width="1" height="7"/>
<rect x="1119" y="483" width="1" height="8"/>
<rect x="1121" y="483" width="1" height="9"/>
<rect x="1123" y="483" width="1" height="9"/>
<rect x="1125" y="483" width="1" height="10"/>
<rect x="1127" y="483" width="1" height="11"/>
<rect x="1129" y="483" width="1" height="9"/>
<rect x="1131" y="483" width="1" height="8"/>
<rect x="1133" y="483" width="1" height="9"/>
<rect x="1135" y="483" width="1" height="9"/>
<rect x="1137" y="483" width="1" height="8"/>
<rect x="1139" y="483" width="1" height="7"/>
<rect x="1141" y="483" width="1" height="6"/>
<rect x="1143" y="483" width="1" height="5"/>
<rect x="1145" y="483" width="1" height="2"/>
<rect x="1147" y="483" width="1" height="1"/>
<rect x="1149" y="483" width="1" height="1"/>
<rect x="1151" y="483" width="1" height="3"/>
<rect x="1153" y="483" width="1" height="4"/>
<rect x="1155" y="483" width="1" height="6"/>
<rect x="1157" y="483" width="1" height="7"/>
<rect x="1159" y="483" width="1" height="8"/>
<rect x="1161" y="483" width="1" height="9"/>
<rect x="1163" y="483" width="1" height="11"/>
<rect x="1165" y="483" width="1" height="11"/>
<rect x="1167" y="483" width="1" height="9"/>
<rect x="1169" y="483" width="1" height="7"/>
<rect x="1171" y="483" width="1" height="5"/>
<rect x="1173" y="483" width="1" height="2"/>
<rect x="1175" y="474" width="1" height="9"/>
<rect x="1177" y="483" width="1" height="5"/>
<rect x="1179" y="483" width="1" height="8"/>
<rect x="1181" y="483" width="1" height="11"/>
<rect x="1183" y="483" width="1" height="9"/>
<rect x="1185" y="483" width="1" height="6"/>
<rect x="1187" y="483" width="1" height="2"/>
<rect x="1189" y="481" width="1" height="2"/>
<rect x="1191" y="481" width="1" height="2"/>
<rect x="1193" y="482" width="1" height="1"/>
<rect x="1195" y="482" width="1" height="1"/>
<rect x="1197" y="483" width="1" height="1"/>
<rect x="1199" y="483" width="1" height="1"/>
<rect x="1201" y="483" width="1" height="1"/>
<rect x="1203" y="483" width="1" height="1"/>
<rect x="1205" y="483" width="1" height="2"/>
<rect x="1207" y="483" width="1" height="3"/>
<rect x="1209" y="483" width="1" height="5"/>
<rect x="1211" y="483" width="1" height="3"/>
<rect x="1213" y="483" width="1" height="1"/>
<rect x="1215" y="479" width="1" height="4"/>
<rect x="1217" y="476" width="1" height="7"/>
<rect x="1219" y="477" width="1" height="6"/>
<rect x="1221" y="476" width="1" height="7"/>
<rect x="1223" y="481" width="1" height="2"/>
<rect x="1225" y="483" width="1" height="3"/>
<rect x="1227" y="483" width="1" height="6"/>
<rect x="1229" y="483" width="1" height="7"/>
<rect x="1231" y="483" width="1" height="7"/>
<rect x="1233" y="483" width="1" height="7"/>
<rect x="1235" y="483" width="1" height="6"/>
<rect x="1237" y="483" width="1" height="5"/>
<rect x="1239" y="483" width="1" height="7"/>
<rect x="1241" y="483" width="1" height="11"/>
<rect x="1243" y="483" width="1" height="12"/>
<rect x="1245" y="483" width="1" height="9"/>
<rect x="1247" y="483" width="1" height="6"/>
<rect x="1249" y="480" width="1" height="3"/>
<rect x="1251" y="475" width="1" height="8"/>
<rect x="1253" y="473" width="1" height="10"/>
<rect x="1255" y="475" width="1" height="8"/>
<rect x="1257" y="476" width="1" height="7"/>
<rect x="1259" y="478" width="1" height="5"/>
<rect x="1261" y="480" width="1" height="3"/>
<rect x="1263" y="480" width="1" height="3"/>
<rect x="1265" y="481" width="1" height="2"/>
<rect x="1267" y="481" width="1" height="2"/>
<rect x="1269" y="480" width="1" height="3"/>
<rect x="1271" y="476" width="1" height="7"/>
<rect x="1273" y="477" width="1" height="6"/>
<rect x="1275" y="479" width="1" height="4"/>
<rect x="1277" y="483" width="1" height="3"/>
<rect x="1279" y="483" width="1" height="6"/>
<rect x="1281" y="483" width="1" height="19"/>
<rect x="1283" y="483" width="1" height="42"/>
<rect x="1285" y="483" width="1" height="65"/>
<rect x="1287" y="483" width="1" height="53"/>
<rect x="1289" y="483" width="1" height="28"/>
<rect x="1291" y="483" width="1" height="6"/>
<rect x="1293" y="475" width="1" height="8"/>
<rect x="1295" y="466" width="1" height="17"/>
</g>
<path d="M716.5 73.5h6v5.5l-3 3.5l-3 -3.5z" fill="none" stroke="#ff0000" stroke-width="1"/>
<path d="M662.5 71.5h6v5.5l-3 3.5l-3 -3.5z" fill="none" stroke="#ff0000" stroke-width="1"/>
<g shape-rendering="crispEdges" fill="#000">
<rect x="1" y="234" width="1" height="10"/>
<rect x="3" y="239" width="1" height="9"/>
<rect x="5" y="241" width="1" height="8"/>
<rect x="7" y="246" width="1" height="9"/>
<rect x="9" y="246" width="1" height="9"/>
<rect x="11" y="246" width="1" height="9"/>
<rect x="13" y="241" width="1" height="10"/>
<rect x="15" y="241" width="1" height="9"/>
<rect x="17" y="242" width="1" height="9"/>
<rect x="19" y="244" width="1" height="7"/>
<rect x="21" y="245" width="1" height="10"/>
<rect x="23" y="246" width="1" height="8"/>
<rect x="25" y="244" width="1" height="7"/>
<rect x="27" y="245" width="1" height="6"/>
<rect x="29" y="251" width="1" height="11"/>
<rect x="31" y="258" width="1" height="10"/>
<rect x="33" y="260" width="1" height="11"/>
<rect x="35" y="266" width="1" height="14"/>
<rect x="37" y="228" width="1" height="66"/>
<rect x="39" y="211" width="1" height="79"/>
<rect x="41" y="255" width="1" height="43"/>
<rect x="43" y="265" width="1" height="34"/>
<rect x="45" y="254" width="1" height="30"/>
<rect x="47" y="245" width="1" height="24"/>
<rect x="49" y="238" width="1" height="20"/>
<rect x="51" y="236" width="1" height="16"/>
<rect x="53" y="238" width="1" height="8"/>
<rect x="55" y="228" width="1" height="22"/>
<rect x="57" y="228" width="1" height="14"/>
<rect x="59" y="240" width="1" height="15"/>
<rect x="61" y="228" width="1" height="22"/>
<rect x="63" y="239" width="1" height="16"/>
<rect x="65" y="230" width="1" height="21"/>
<rect x="67" y="229" width="1" height="12"/>
<rect x="69" y="226" width="1" height="12"/>
<rect x="71" y="209" width="1" height="20"/>
<rect x="73" y="206" width="1" height="18"/>
<rect x="75" y="179" width="1" height="46"/>
<rect x="77" y="180" width="1" height="16"/>
<rect x="79" y="176" width="1" height="18"/>
<rect x="81" y="165" width="1" height="21"/>
<rect x="83" y="181" width="1" height="14"/>
<rect x="85" y="179" width="1" height="15"/>
<rect x="87" y="181" width="1" height="19"/>
<rect x="89" y="191" width="1" height="13"/>
<rect x="91" y="194" width="1" height="14"/>
<rect x="93" y="186" width="1" height="13"/>
<rect x="95" y="179" width="1" height="12"/>
<rect x="97" y="178" width="1" height="8"/>
<rect x="99" y="180" width="1" height="14"/>
<rect x="101" y="189" width="1" height="10"/>
<rect x="103" y="188" width="1" height="13"/>
<rect x="105" y="189" width="1" height="12"/>
<rect x="107" y="188" width="1" height="16"/>
<rect x="109" y="186" width="1" height="14"/>
<rect x="111" y="178" width="1" height="13"/>
<rect x="113" y="179" width="1" height="13"/>
<rect x="115" y="178" width="1" height="11"/>
<rect x="117" y="178" width="1" height="8"/>
<rect x="119" y="181" width="1" height="8"/>
<rect x="121" y="181" width="1" height="13"/>
<rect x="123" y="190" width="1" height="9"/>
<rect x="125" y="190" width="1" height="6"/>
<rect x="127" y="190" width="1" height="6"/>
<rect x="129" y="185" width="1" height="9"/>
<rect x="131" y="191" width="1" height="13"/>
<rect x="133" y="192" width="1" height="9"/>
<rect x="135" y="192" width="1" height="10"/>
<rect x="137" y="198" width="1" height="8"/>
<rect x="139" y="196" width="1" height="10"/>
<rect x="141" y="194" width="1" height="11"/>
<rect x="143" y="202" width="1" height="12"/>
<rect x="145" y="204" width="1" height="6"/>
<rect x="147" y="192" width="1" height="14"/>
<rect x="149" y="200" width="1" height="8"/>
<rect x="151" y="199" width="1" height="9"/>
<rect x="153" y="208" width="1" height="8"/>
<rect x="155" y="209" width="1" height="6"/>
<rect x="157" y="209" width="1" height="6"/>
<rect x="159" y="208" width="1" height="7"/>
<rect x="161" y="209" width="1" height="6"/>
<rect x="163" y="209" width="1" height="9"/>
<rect x="165" y="210" width="1" height="5"/>
<rect x="167" y="210" width="1" height="5"/>
<rect x="169" y="210" width="1" height="5"/>
<rect x="171" y="196" width="1" height="15"/>
<rect x="173" y="199" width="1" height="6"/>
<rect x="175" y="201" width="1" height="7"/>
<rect x="177" y="201" width="1" height="5"/>
<rect x="179" y="202" width="1" height="7"/>
<rect x="181" y="205" width="1" height="5"/>
<rect x="183" y="206" width="1" height="5"/>
<rect x="185" y="206" width="1" height="6"/>
<rect x="187" y="208" width="1" height="7"/>
<rect x="189" y="202" width="1" height="14"/>
<rect x="191" y="211" width="1" height="13"/>
<rect x="193" y="219" width="1" height="9"/>
<rect x="195" y="221" width="1" height="9"/>
<rect x="197" y="225" width="1" height="9"/>
<rect x="199" y="225" width="1" height="4"/>
<rect x="201" y="222" width="1" height="4"/>
<rect x="203" y="221" width="1" height="4"/>
<rect x="205" y="218" width="1" height="6"/>
<rect x="207" y="189" width="1" height="19"/>
<rect x="209" y="188" width="1" height="10"/>
<rect x="211" y="179" width="1" height="12"/>
<rect x="213" y="180" width="1" height="14"/>
<rect x="215" y="178" width="1" height="16"/>
<rect x="217" y="178" width="1" height="10"/>
<rect x="219" y="178" width="1" height="7"/>
<rect x="221" y="155" width="1" height="25"/>
<rect x="223" y="155" width="1" height="13"/>
<rect x="225" y="155" width="1" height="11"/>
<rect x="227" y="155" width="1" height="13"/>
<rect x="229" y="155" width="1" height="13"/>
<rect x="231" y="161" width="1" height="17"/>
<rect x="233" y="162" width="1" height="14"/>
<rect x="235" y="171" width="1" height="8"/>
<rect x="237" y="172" width="1" height="9"/>
<rect x="239" y="174" width="1" height="7"/>
<rect x="241" y="176" width="1" height="10"/>
<rect x="243" y="178" width="1" height="7"/>
<rect x="245" y="178" width="1" height="8"/>
<rect x="247" y="182" width="1" height="7"/>
<rect x="249" y="178" width="1" height="17"/>
<rect x="251" y="176" width="1" height="9"/>
<rect x="253" y="168" width="1" height="14"/>
<rect x="255" y="168" width="1" height="13"/>
<rect x="257" y="174" width="1" height="10"/>
<rect x="259" y="172" width="1" height="9"/>
<rect x="261" y="174" width="1" height="7"/>
<rect x="263" y="175" width="1" height="13"/>
<rect x="265" y="176" width="1" height="9"/>
<rect x="267" y="178" width="1" height="8"/>
<rect x="269" y="179" width="1" height="11"/>
<rect x="271" y="186" width="1" height="8"/>
<rect x="273" y="190" width="1" height="6"/>
<rect x="275" y="191" width="1" height="8"/>
<rect x="277" y="196" width="1" height="19"/>
<rect x="279" y="206" width="1" height="9"/>
<rect x="281" y="208" width="1" height="8"/>
<rect x="283" y="208" width="1" height="7"/>
<rect x="285" y="211" width="1" height="7"/>
<rect x="287" y="212" width="1" height="10"/>
<rect x="289" y="211" width="1" height="7"/>
<rect x="291" y="210" width="1" height="10"/>
<rect x="293" y="212" width="1" height="10"/>
<rect x="295" y="212" width="1" height="12"/>
<rect x="297" y="211" width="1" height="9"/>
<rect x="299" y="210" width="1" height="10"/>
<rect x="301" y="209" width="1" height="11"/>
<rect x="303" y="215" width="1" height="10"/>
<rect x="305" y="218" width="1" height="8"/>
<rect x="307" y="220" width="1" height="9"/>
<rect x="309" y="222" width="1" height="10"/>
<rect x="311" y="226" width="1" height="14"/>
<rect x="313" y="234" width="1" height="12"/>
<rect x="315" y="240" width="1" height="8"/>
<rect x="317" y="241" width="1" height="9"/>
<rect x="319" y="244" width="1" height="11"/>
<rect x="321" y="248" width="1" height="13"/>
<rect x="323" y="250" width="1" height="9"/>
<rect x="325" y="246" width="1" height="12"/>
<rect x="327" y="245" width="1" height="6"/>
<rect x="329" y="241" width="1" height="9"/>
<rect x="331" y="239" width="1" height="9"/>
<rect x="333" y="236" width="1" height="9"/>
<rect x="335" y="241" width="1" height="10"/>
<rect x="337" y="241" width="1" height="11"/>
<rect x="339" y="242" width="1" height="9"/>
<rect x="341" y="242" width="1" height="8"/>
<rect x="343" y="244" width="1" height="15"/>
<rect x="345" y="240" width="1" height="12"/>
<rect x="347" y="234" width="1" height="10"/>
<rect x="349" y="228" width="1" height="12"/>
<rect x="351" y="228" width="1" height="11"/>
<rect x="353" y="228" width="1" height="11"/>
<rect x="355" y="224" width="1" height="12"/>
<rect x="357" y="229" width="1" height="11"/>
<rect x="359" y="236" width="1" height="12"/>
<rect x="361" y="238" width="1" height="11"/>
<rect x="363" y="238" width="1" height="12"/>
<rect x="365" y="236" width="1" height="14"/>
<rect x="367" y="225" width="1" height="17"/>
<rect x="369" y="221" width="1" height="14"/>
<rect x="371" y="221" width="1" height="8"/>
<rect x="373" y="216" width="1" height="13"/>
<rect x="375" y="210" width="1" height="12"/>
<rect x="377" y="202" width="1" height="16"/>
<rect x="379" y="206" width="1" height="10"/>
<rect x="381" y="212" width="1" height="14"/>
<rect x="383" y="219" width="1" height="10"/>
<rect x="385" y="214" width="1" height="15"/>
<rect x="387" y="208" width="1" height="8"/>
<rect x="389" y="208" width="1" height="7"/>
<rect x="391" y="198" width="1" height="14"/>
<rect x="393" y="200" width="1" height="11"/>
<rect x="395" y="195" width="1" height="15"/>
<rect x="397" y="188" width="1" height="16"/>
<rect x="399" y="188" width="1" height="20"/>
<rect x="401" y="192" width="1" height="14"/>
<rect x="403" y="189" width="1" height="16"/>
<rect x="405" y="185" width="1" height="19"/>
<rect x="407" y="189" width="1" height="13"/>
<rect x="409" y="194" width="1" height="8"/>
<rect x="411" y="198" width="1" height="6"/>
<rect x="413" y="198" width="1" height="7"/>
<rect x="415" y="192" width="1" height="16"/>
<rect x="417" y="194" width="1" height="6"/>
<rect x="419" y="191" width="1" height="8"/>
<rect x="421" y="195" width="1" height="9"/>
<rect x="423" y="200" width="1" height="22"/>
<rect x="425" y="211" width="1" height="9"/>
<rect x="427" y="208" width="1" height="10"/>
<rect x="429" y="206" width="1" height="10"/>
<rect x="431" y="206" width="1" height="9"/>
<rect x="433" y="204" width="1" height="10"/>
<rect x="435" y="198" width="1" height="14"/>
<rect x="437" y="200" width="1" height="11"/>
<rect x="439" y="199" width="1" height="12"/>
<rect x="441" y="188" width="1" height="20"/>
<rect x="443" y="176" width="1" height="16"/>
<rect x="445" y="169" width="1" height="13"/>
<rect x="447" y="168" width="1" height="12"/>
<rect x="449" y="169" width="1" height="9"/>
<rect x="451" y="175" width="1" height="9"/>
<rect x="453" y="174" width="1" height="11"/>
<rect x="455" y="178" width="1" height="4"/>
<rect x="457" y="176" width="1" height="6"/>
<rect x="459" y="176" width="1" height="5"/>
<rect x="461" y="176" width="1" height="10"/>
<rect x="463" y="178" width="1" height="6"/>
<rect x="465" y="175" width="1" height="9"/>
<rect x="467" y="169" width="1" height="11"/>
<rect x="469" y="158" width="1" height="13"/>
<rect x="471" y="159" width="1" height="12"/>
<rect x="473" y="160" width="1" height="11"/>
<rect x="475" y="150" width="1" height="18"/>
<rect x="477" y="149" width="1" height="10"/>
<rect x="479" y="149" width="1" height="10"/>
<rect x="481" y="145" width="1" height="14"/>
<rect x="483" y="152" width="1" height="8"/>
<rect x="485" y="158" width="1" height="10"/>
<rect x="487" y="159" width="1" height="9"/>
<rect x="489" y="158" width="1" height="4"/>
<rect x="491" y="159" width="1" height="6"/>
<rect x="493" y="160" width="1" height="6"/>
<rect x="495" y="159" width="1" height="15"/>
<rect x="497" y="166" width="1" height="4"/>
<rect x="499" y="159" width="1" height="11"/>
<rect x="501" y="166" width="1" height="4"/>
<rect x="503" y="169" width="1" height="5"/>
<rect x="505" y="166" width="1" height="5"/>
<rect x="507" y="164" width="1" height="5"/>
<rect x="509" y="156" width="1" height="9"/>
<rect x="511" y="154" width="1" height="7"/>
<rect x="513" y="155" width="1" height="6"/>
<rect x="515" y="156" width="1" height="6"/>
<rect x="517" y="156" width="1" height="6"/>
<rect x="519" y="160" width="1" height="5"/>
<rect x="521" y="162" width="1" height="6"/>
<rect x="523" y="164" width="1" height="5"/>
<rect x="525" y="164" width="1" height="6"/>
<rect x="527" y="165" width="1" height="5"/>
<rect x="529" y="162" width="1" height="9"/>
<rect x="531" y="171" width="1" height="18"/>
<rect x="533" y="175" width="1" height="11"/>
<rect x="535" y="172" width="1" height="13"/>
<rect x="537" y="179" width="1" height="7"/>
<rect x="539" y="179" width="1" height="7"/>
<rect x="541" y="172" width="1" height="14"/>
<rect x="543" y="184" width="1" height="10"/>
<rect x="545" y="190" width="1" height="9"/>
<rect x="547" y="192" width="1" height="9"/>
<rect x="549" y="194" width="1" height="10"/>
<rect x="551" y="195" width="1" height="10"/>
<rect x="553" y="196" width="1" height="10"/>
<rect x="555" y="196" width="1" height="15"/>
<rect x="557" y="191" width="1" height="14"/>
<rect x="559" y="194" width="1" height="8"/>
<rect x="561" y="192" width="1" height="7"/>
<rect x="563" y="188" width="1" height="8"/>
<rect x="565" y="184" width="1" height="7"/>
<rect x="567" y="176" width="1" height="9"/>
<rect x="569" y="176" width="1" height="9"/>
<rect x="571" y="174" width="1" height="10"/>
<rect x="573" y="171" width="1" height="9"/>
<rect x="575" y="170" width="1" height="8"/>
<rect x="577" y="169" width="1" height="7"/>
<rect x="579" y="160" width="1" height="14"/>
<rect x="581" y="166" width="1" height="10"/>
<rect x="583" y="170" width="1" height="11"/>
<rect x="585" y="176" width="1" height="15"/>
<rect x="587" y="179" width="1" height="10"/>
<rect x="589" y="175" width="1" height="13"/>
<rect x="591" y="175" width="1" height="7"/>
<rect x="593" y="175" width="1" height="6"/>
<rect x="595" y="175" width="1" height="6"/>
<rect x="597" y="179" width="1" height="11"/>
<rect x="599" y="180" width="1" height="12"/>
<rect x="601" y="179" width="1" height="7"/>
<rect x="603" y="180" width="1" height="6"/>
<rect x="605" y="179" width="1" height="6"/>
<rect x="607" y="178" width="1" height="6"/>
<rect x="609" y="175" width="1" height="10"/>
<rect x="611" y="178" width="1" height="4"/>
<rect x="613" y="176" width="1" height="5"/>
<rect x="615" y="179" width="1" height="6"/>
<rect x="617" y="176" width="1" height="10"/>
<rect x="619" y="174" width="1" height="7"/>
<rect x="621" y="132" width="1" height="42"/>
<rect x="623" y="165" width="1" height="9"/>
<rect x="625" y="168" width="1" height="12"/>
<rect x="627" y="170" width="1" height="19"/>
<rect x="629" y="166" width="1" height="14"/>
<rect x="631" y="168" width="1" height="8"/>
<rect x="633" y="160" width="1" height="14"/>
<rect x="635" y="160" width="1" height="9"/>
<rect x="637" y="154" width="1" height="12"/>
<rect x="639" y="154" width="1" height="11"/>
<rect x="641" y="160" width="1" height="5"/>
<rect x="643" y="156" width="1" height="8"/>
<rect x="645" y="161" width="1" height="11"/>
<rect x="647" y="165" width="1" height="9"/>
<rect x="649" y="161" width="1" height="10"/>
<rect x="651" y="156" width="1" height="13"/>
<rect x="653" y="150" width="1" height="11"/>
<rect x="655" y="151" width="1" height="10"/>
<rect x="657" y="149" width="1" height="12"/>
<rect x="659" y="149" width="1" height="13"/>
<rect x="661" y="105" width="1" height="71"/>
<rect x="663" y="102" width="1" height="26"/>
<rect x="665" y="85" width="1" height="50"/>
<rect x="667" y="63" width="1" height="45"/>
<rect x="669" y="75" width="1" height="26"/>
<rect x="671" y="80" width="1" height="30"/>
<rect x="673" y="88" width="1" height="18"/>
<rect x="675" y="80" width="1" height="16"/>
<rect x="677" y="72" width="1" height="13"/>
<rect x="679" y="64" width="1" height="18"/>
<rect x="681" y="78" width="1" height="23"/>
<rect x="683" y="99" width="1" height="20"/>
<rect x="685" y="101" width="1" height="15"/>
<rect x="687" y="92" width="1" height="22"/>
<rect x="689" y="96" width="1" height="14"/>
<rect x="691" y="90" width="1" height="19"/>
<rect x="693" y="88" width="1" height="20"/>
<rect x="695" y="88" width="1" height="12"/>
<rect x="697" y="71" width="1" height="27"/>
<rect x="699" y="72" width="1" height="23"/>
<rect x="701" y="86" width="1" height="29"/>
<rect x="703" y="109" width="1" height="46"/>
<rect x="705" y="132" width="1" height="22"/>
<rect x="707" y="118" width="1" height="17"/>
<rect x="709" y="99" width="1" height="19"/>
<rect x="711" y="96" width="1" height="9"/>
<rect x="713" y="91" width="1" height="11"/>
<rect x="715" y="89" width="1" height="10"/>
<rect x="717" y="86" width="1" height="15"/>
<rect x="719" y="86" width="1" height="22"/>
<rect x="721" y="68" width="1" height="17"/>
<rect x="723" y="69" width="1" height="19"/>
<rect x="725" y="82" width="1" height="14"/>
<rect x="727" y="84" width="1" height="14"/>
<rect x="729" y="42" width="1" height="43"/>
<rect x="731" y="41" width="1" height="11"/>
<rect x="733" y="32" width="1" height="16"/>
<rect x="735" y="34" width="1" height="12"/>
<rect x="737" y="32" width="1" height="14"/>
<rect x="739" y="31" width="1" height="21"/>
<rect x="741" y="31" width="1" height="19"/>
<rect x="743" y="35" width="1" height="16"/>
<rect x="745" y="44" width="1" height="7"/>
<rect x="747" y="44" width="1" height="6"/>
<rect x="749" y="48" width="1" height="12"/>
<rect x="751" y="35" width="1" height="15"/>
<rect x="753" y="35" width="1" height="6"/>
<rect x="755" y="19" width="1" height="22"/>
<rect x="757" y="12" width="1" height="14"/>
<rect x="759" y="20" width="1" height="8"/>
<rect x="761" y="22" width="1" height="9"/>
<rect x="763" y="19" width="1" height="11"/>
<rect x="765" y="19" width="1" height="7"/>
<rect x="767" y="25" width="1" height="10"/>
<rect x="769" y="26" width="1" height="8"/>
<rect x="771" y="29" width="1" height="5"/>
<rect x="773" y="31" width="1" height="14"/>
<rect x="775" y="31" width="1" height="5"/>
<rect x="777" y="31" width="1" height="8"/>
<rect x="779" y="36" width="1" height="8"/>
<rect x="781" y="40" width="1" height="8"/>
<rect x="783" y="45" width="1" height="5"/>
<rect x="785" y="46" width="1" height="5"/>
<rect x="787" y="45" width="1" height="5"/>
<rect x="789" y="41" width="1" height="10"/>
<rect x="791" y="35" width="1" height="10"/>
<rect x="793" y="35" width="1" height="10"/>
<rect x="795" y="35" width="1" height="9"/>
<rect x="797" y="35" width="1" height="7"/>
<rect x="799" y="35" width="1" height="7"/>
<rect x="801" y="35" width="1" height="6"/>
<rect x="803" y="32" width="1" height="4"/>
<rect x="805" y="32" width="1" height="6"/>
<rect x="807" y="34" width="1" height="5"/>
<rect x="809" y="29" width="1" height="12"/>
<rect x="811" y="29" width="1" height="11"/>
<rect x="813" y="41" width="1" height="10"/>
<rect x="815" y="48" width="1" height="7"/>
<rect x="817" y="48" width="1" height="6"/>
<rect x="819" y="46" width="1" height="5"/>
<rect x="821" y="45" width="1" height="5"/>
<rect x="823" y="42" width="1" height="7"/>
<rect x="825" y="42" width="1" height="6"/>
<rect x="827" y="45" width="1" height="15"/>
<rect x="829" y="54" width="1" height="10"/>
<rect x="831" y="59" width="1" height="7"/>
<rect x="833" y="59" width="1" height="5"/>
<rect x="835" y="59" width="1" height="3"/>
<rect x="837" y="58" width="1" height="4"/>
<rect x="839" y="56" width="1" height="5"/>
<rect x="841" y="55" width="1" height="6"/>
<rect x="843" y="54" width="1" height="6"/>
<rect x="845" y="54" width="1" height="5"/>
<rect x="847" y="52" width="1" height="7"/>
<rect x="849" y="50" width="1" height="6"/>
<rect x="851" y="46" width="1" height="8"/>
<rect x="853" y="46" width="1" height="6"/>
<rect x="855" y="28" width="1" height="22"/>
<rect x="857" y="35" width="1" height="14"/>
<rect x="859" y="35" width="1" height="17"/>
<rect x="861" y="49" width="1" height="11"/>
<rect x="863" y="51" width="1" height="10"/>
<rect x="865" y="49" width="1" height="12"/>
<rect x="867" y="46" width="1" height="8"/>
<rect x="869" y="45" width="1" height="9"/>
<rect x="871" y="44" width="1" height="16"/>
<rect x="873" y="59" width="1" height="5"/>
<rect x="875" y="59" width="1" height="6"/>
<rect x="877" y="54" width="1" height="7"/>
<rect x="879" y="31" width="1" height="30"/>
<rect x="881" y="40" width="1" height="50"/>
<rect x="883" y="78" width="1" height="13"/>
<rect x="885" y="84" width="1" height="24"/>
<rect x="887" y="92" width="1" height="22"/>
<rect x="889" y="92" width="1" height="12"/>
<rect x="891" y="88" width="1" height="14"/>
<rect x="893" y="78" width="1" height="17"/>
<rect x="895" y="71" width="1" height="15"/>
<rect x="897" y="76" width="1" height="10"/>
<rect x="899" y="84" width="1" height="11"/>
<rect x="901" y="84" width="1" height="11"/>
<rect x="903" y="80" width="1" height="14"/>
<rect x="905" y="84" width="1" height="10"/>
<rect x="907" y="76" width="1" height="12"/>
<rect x="909" y="72" width="1" height="14"/>
<rect x="911" y="71" width="1" height="9"/>
<rect x="913" y="71" width="1" height="9"/>
<rect x="915" y="72" width="1" height="17"/>
<rect x="917" y="84" width="1" height="17"/>
<rect x="919" y="92" width="1" height="14"/>
<rect x="921" y="99" width="1" height="17"/>
<rect x="923" y="106" width="1" height="6"/>
<rect x="925" y="104" width="1" height="5"/>
<rect x="927" y="99" width="1" height="7"/>
<rect x="929" y="96" width="1" height="8"/>
<rect x="931" y="95" width="1" height="15"/>
<rect x="933" y="96" width="1" height="10"/>
<rect x="935" y="99" width="1" height="6"/>
<rect x="937" y="105" width="1" height="5"/>
<rect x="939" y="104" width="1" height="6"/>
<rect x="941" y="99" width="1" height="10"/>
<rect x="943" y="101" width="1" height="7"/>
<rect x="945" y="102" width="1" height="13"/>
<rect x="947" y="90" width="1" height="12"/>
<rect x="949" y="86" width="1" height="18"/>
<rect x="951" y="86" width="1" height="16"/>
<rect x="953" y="85" width="1" height="13"/>
<rect x="955" y="76" width="1" height="18"/>
<rect x="957" y="78" width="1" height="11"/>
<rect x="959" y="79" width="1" height="9"/>
<rect x="961" y="76" width="1" height="10"/>
<rect x="963" y="80" width="1" height="4"/>
<rect x="965" y="78" width="1" height="4"/>
<rect x="967" y="72" width="1" height="8"/>
<rect x="969" y="68" width="1" height="10"/>
<rect x="971" y="69" width="1" height="11"/>
<rect x="973" y="70" width="1" height="15"/>
<rect x="975" y="69" width="1" height="7"/>
<rect x="977" y="56" width="1" height="14"/>
<rect x="979" y="54" width="1" height="12"/>
<rect x="981" y="56" width="1" height="14"/>
<rect x="983" y="56" width="1" height="20"/>
<rect x="985" y="40" width="1" height="26"/>
<rect x="987" y="55" width="1" height="13"/>
<rect x="989" y="56" width="1" height="12"/>
<rect x="991" y="60" width="1" height="25"/>
<rect x="993" y="71" width="1" height="19"/>
<rect x="995" y="71" width="1" height="41"/>
<rect x="997" y="94" width="1" height="8"/>
<rect x="999" y="84" width="1" height="15"/>
<rect x="1001" y="82" width="1" height="17"/>
<rect x="1003" y="96" width="1" height="20"/>
<rect x="1005" y="104" width="1" height="14"/>
<rect x="1007" y="102" width="1" height="22"/>
<rect x="1009" y="100" width="1" height="20"/>
<rect x="1011" y="105" width="1" height="17"/>
<rect x="1013" y="111" width="1" height="10"/>
<rect x="1015" y="112" width="1" height="12"/>
<rect x="1017" y="116" width="1" height="20"/>
<rect x="1019" y="120" width="1" height="15"/>
<rect x="1021" y="120" width="1" height="18"/>
<rect x="1023" y="124" width="1" height="8"/>
<rect x="1025" y="118" width="1" height="10"/>
<rect x="1027" y="116" width="1" height="18"/>
<rect x="1029" y="120" width="1" height="21"/>
<rect x="1031" y="121" width="1" height="10"/>
<rect x="1033" y="120" width="1" height="10"/>
<rect x="1035" y="109" width="1" height="17"/>
<rect x="1037" y="100" width="1" height="15"/>
<rect x="1039" y="102" width="1" height="12"/>
<rect x="1041" y="105" width="1" height="13"/>
<rect x="1043" y="106" width="1" height="9"/>
<rect x="1045" y="101" width="1" height="15"/>
<rect x="1047" y="110" width="1" height="16"/>
<rect x="1049" y="122" width="1" height="13"/>
<rect x="1051" y="120" width="1" height="9"/>
<rect x="1053" y="126" width="1" height="13"/>
<rect x="1055" y="132" width="1" height="13"/>
<rect x="1057" y="129" width="1" height="10"/>
<rect x="1059" y="118" width="1" height="17"/>
<rect x="1061" y="120" width="1" height="15"/>
<rect x="1063" y="89" width="1" height="23"/>
<rect x="1065" y="89" width="1" height="12"/>
<rect x="1067" y="96" width="1" height="5"/>
<rect x="1069" y="98" width="1" height="3"/>
<rect x="1071" y="89" width="1" height="11"/>
<rect x="1073" y="89" width="1" height="12"/>
<rect x="1075" y="81" width="1" height="9"/>
<rect x="1077" y="84" width="1" height="5"/>
<rect x="1079" y="85" width="1" height="16"/>
<rect x="1081" y="96" width="1" height="6"/>
<rect x="1083" y="98" width="1" height="3"/>
<rect x="1085" y="96" width="1" height="9"/>
<rect x="1087" y="92" width="1" height="8"/>
<rect x="1089" y="89" width="1" height="10"/>
<rect x="1091" y="89" width="1" height="7"/>
<rect x="1093" y="90" width="1" height="8"/>
<rect x="1095" y="80" width="1" height="11"/>
<rect x="1097" y="81" width="1" height="8"/>
<rect x="1099" y="82" width="1" height="6"/>
<rect x="1101" y="81" width="1" height="5"/>
<rect x="1103" y="81" width="1" height="4"/>
<rect x="1105" y="76" width="1" height="9"/>
<rect x="1107" y="81" width="1" height="4"/>
<rect x="1109" y="84" width="1" height="5"/>
<rect x="1111" y="84" width="1" height="5"/>
<rect x="1113" y="85" width="1" height="5"/>
<rect x="1115" y="84" width="1" height="10"/>
<rect x="1117" y="86" width="1" height="8"/>
<rect x="1119" y="85" width="1" height="7"/>
<rect x="1121" y="85" width="1" height="6"/>
<rect x="1123" y="80" width="1" height="10"/>
<rect x="1125" y="86" width="1" height="4"/>
<rect x="1127" y="89" width="1" height="6"/>
<rect x="1129" y="88" width="1" height="4"/>
<rect x="1131" y="82" width="1" height="12"/>
<rect x="1133" y="82" width="1" height="13"/>
<rect x="1135" y="89" width="1" height="6"/>
<rect x="1137" y="88" width="1" height="7"/>
<rect x="1139" y="84" width="1" height="7"/>
<rect x="1141" y="85" width="1" height="4"/>
<rect x="1143" y="85" width="1" height="9"/>
<rect x="1145" y="84" width="1" height="4"/>
<rect x="1147" y="82" width="1" height="4"/>
<rect x="1149" y="84" width="1" height="5"/>
<rect x="1151" y="86" width="1" height="3"/>
<rect x="1153" y="86" width="1" height="4"/>
<rect x="1155" y="89" width="1" height="5"/>
<rect x="1157" y="90" width="1" height="5"/>
<rect x="1159" y="89" width="1" height="7"/>
<rect x="1161" y="98" width="1" height="6"/>
<rect x="1163" y="98" width="1" height="3"/>
<rect x="1165" y="100" width="1" height="4"/>
<rect x="1167" y="100" width="1" height="2"/>
<rect x="1169" y="99" width="1" height="2"/>
<rect x="1171" y="90" width="1" height="9"/>
<rect x="1173" y="91" width="1" height="8"/>
<rect x="1175" y="68" width="1" height="31"/>
<rect x="1177" y="99" width="1" height="20"/>
<rect x="1179" y="106" width="1" height="8"/>
<rect x="1181" y="105" width="1" height="7"/>
<rect x="1183" y="100" width="1" height="11"/>
<rect x="1185" y="95" width="1" height="11"/>
<rect x="1187" y="96" width="1" height="9"/>
<rect x="1189" y="94" width="1" height="7"/>
<rect x="1191" y="95" width="1" height="7"/>
<rect x="1193" y="101" width="1" height="11"/>
<rect x="1195" y="98" width="1" height="8"/>
<rect x="1197" y="99" width="1" height="20"/>
<rect x="1199" y="100" width="1" height="14"/>
<rect x="1201" y="98" width="1" height="11"/>
<rect x="1203" y="104" width="1" height="5"/>
<rect x="1205" y="104" width="1" height="4"/>
<rect x="1207" y="100" width="1" height="11"/>
<rect x="1209" y="106" width="1" height="10"/>
<rect x="1211" y="106" width="1" height="8"/>
<rect x="1213" y="102" width="1" height="6"/>
<rect x="1215" y="96" width="1" height="9"/>
<rect x="1217" y="96" width="1" height="8"/>
<rect x="1219" y="96" width="1" height="8"/>
<rect x="1221" y="99" width="1" height="6"/>
<rect x="1223" y="104" width="1" height="8"/>
<rect x="1225" y="110" width="1" height="12"/>
<rect x="1227" y="108" width="1" height="12"/>
<rect x="1229" y="111" width="1" height="10"/>
<rect x="1231" y="104" width="1" height="16"/>
<rect x="1233" y="110" width="1" height="10"/>
<rect x="1235" y="108" width="1" height="12"/>
<rect x="1237" y="106" width="1" height="18"/>
<rect x="1239" y="104" width="1" height="25"/>
<rect x="1241" y="121" width="1" height="13"/>
<rect x="1243" y="122" width="1" height="17"/>
<rect x="1245" y="118" width="1" height="12"/>
<rect x="1247" y="114" width="1" height="11"/>
<rect x="1249" y="109" width="1" height="15"/>
<rect x="1251" y="104" width="1" height="5"/>
<rect x="1253" y="109" width="1" height="9"/>
<rect x="1255" y="111" width="1" height="7"/>
<rect x="1257" y="112" width="1" height="9"/>
<rect x="1259" y="119" width="1" height="5"/>
<rect x="1261" y="120" width="1" height="14"/>
<rect x="1263" y="120" width="1" height="15"/>
<rect x="1265" y="120" width="1" height="6"/>
<rect x="1267" y="106" width="1" height="15"/>
<rect x="1269" y="111" width="1" height="10"/>
<rect x="1271" y="101" width="1" height="19"/>
<rect x="1273" y="110" width="1" height="19"/>
<rect x="1275" y="119" width="1" height="13"/>
<rect x="1277" y="122" width="1" height="17"/>
<rect x="1279" y="122" width="1" height="14"/>
<rect x="1281" y="124" width="1" height="11"/>
<rect x="1283" y="122" width="1" height="170"/>
<rect x="1285" y="175" width="1" height="95"/>
<rect x="1287" y="164" width="1" height="38"/>
<rect x="1289" y="122" width="1" height="70"/>
<rect x="1291" y="122" width="1" height="26"/>
<rect x="1293" y="122" width="1" height="4"/>
<rect x="18" y="248" width="1" height="1"/>
<rect x="20" y="248" width="1" height="1"/>
<rect x="28" y="251" width="1" height="1"/>
<rect x="30" y="259" width="1" height="1"/>
<rect x="42" y="287" width="1" height="1"/>
<rect x="44" y="273" width="1" height="1"/>
<rect x="52" y="240" width="1" height="1"/>
<rect x="54" y="240" width="1" height="1"/>
<rect x="62" y="244" width="1" height="1"/>
<rect x="64" y="243" width="1" height="1"/>
<rect x="76" y="190" width="1" height="1"/>
<rect x="78" y="184" width="1" height="1"/>
<rect x="86" y="189" width="1" height="1"/>
<rect x="88" y="195" width="1" height="1"/>
<rect x="96" y="182" width="1" height="1"/>
<rect x="98" y="183" width="1" height="1"/>
<rect x="110" y="189" width="1" height="1"/>
<rect x="112" y="187" width="1" height="1"/>
<rect x="120" y="186" width="1" height="1"/>
<rect x="122" y="190" width="1" height="1"/>
<rect x="144" y="205" width="1" height="1"/>
<rect x="146" y="205" width="1" height="1"/>
<rect x="154" y="210" width="1" height="1"/>
<rect x="156" y="210" width="1" height="1"/>
<rect x="178" y="204" width="1" height="1"/>
<rect x="180" y="206" width="1" height="1"/>
<rect x="188" y="210" width="1" height="1"/>
<rect x="190" y="212" width="1" height="1"/>
<rect x="212" y="187" width="1" height="1"/>
<rect x="214" y="183" width="1" height="1"/>
<rect x="222" y="161" width="1" height="1"/>
<rect x="224" y="158" width="1" height="1"/>
<rect x="236" y="176" width="1" height="1"/>
<rect x="238" y="178" width="1" height="1"/>
<rect x="246" y="183" width="1" height="1"/>
<rect x="248" y="186" width="1" height="1"/>
<rect x="256" y="177" width="1" height="1"/>
<rect x="258" y="176" width="1" height="1"/>
<rect x="270" y="187" width="1" height="1"/>
<rect x="272" y="191" width="1" height="1"/>
<rect x="280" y="212" width="1" height="1"/>
<rect x="282" y="210" width="1" height="1"/>
<rect x="290" y="215" width="1" height="1"/>
<rect x="292" y="217" width="1" height="1"/>
<rect x="304" y="222" width="1" height="1"/>
<rect x="306" y="223" width="1" height="1"/>
<rect x="314" y="242" width="1" height="1"/>
<rect x="316" y="245" width="1" height="1"/>
<rect x="338" y="249" width="1" height="1"/>
<rect x="340" y="244" width="1" height="1"/>
<rect x="348" y="236" width="1" height="1"/>
<rect x="350" y="231" width="1" height="1"/>
<rect x="372" y="223" width="1" height="1"/>
<rect x="374" y="219" width="1" height="1"/>
<rect x="382" y="222" width="1" height="1"/>
<rect x="384" y="221" width="1" height="1"/>
<rect x="406" y="199" width="1" height="1"/>
<rect x="408" y="198" width="1" height="1"/>
<rect x="416" y="196" width="1" height="1"/>
<rect x="418" y="195" width="1" height="1"/>
<rect x="430" y="208" width="1" height="1"/>
<rect x="432" y="208" width="1" height="1"/>
<rect x="440" y="202" width="1" height="1"/>
<rect x="442" y="193" width="1" height="1"/>
<rect x="450" y="175" width="1" height="1"/>
<rect x="452" y="177" width="1" height="1"/>
<rect x="464" y="179" width="1" height="1"/>
<rect x="466" y="177" width="1" height="1"/>
<rect x="474" y="162" width="1" height="1"/>
<rect x="476" y="154" width="1" height="1"/>
<rect x="484" y="158" width="1" height="1"/>
<rect x="486" y="165" width="1" height="1"/>
<rect x="498" y="167" width="1" height="1"/>
<rect x="500" y="167" width="1" height="1"/>
<rect x="508" y="164" width="1" height="1"/>
<rect x="510" y="158" width="1" height="1"/>
<rect x="532" y="184" width="1" height="1"/>
<rect x="534" y="177" width="1" height="1"/>
<rect x="542" y="184" width="1" height="1"/>
<rect x="544" y="191" width="1" height="1"/>
<rect x="566" y="184" width="1" height="1"/>
<rect x="568" y="182" width="1" height="1"/>
<rect x="576" y="172" width="1" height="1"/>
<rect x="578" y="171" width="1" height="1"/>
<rect x="600" y="183" width="1" height="1"/>
<rect x="602" y="183" width="1" height="1"/>
<rect x="610" y="181" width="1" height="1"/>
<rect x="612" y="179" width="1" height="1"/>
<rect x="634" y="163" width="1" height="1"/>
<rect x="636" y="162" width="1" height="1"/>
<rect x="644" y="161" width="1" height="1"/>
<rect x="646" y="169" width="1" height="1"/>
<rect x="658" y="157" width="1" height="1"/>
<rect x="660" y="152" width="1" height="1"/>
<rect x="668" y="96" width="1" height="1"/>
<rect x="670" y="94" width="1" height="1"/>
<rect x="678" y="75" width="1" height="1"/>
<rect x="680" y="77" width="1" height="1"/>
<rect x="692" y="94" width="1" height="1"/>
<rect x="694" y="93" width="1" height="1"/>
<rect x="702" y="109" width="1" height="1"/>
<rect x="704" y="143" width="1" height="1"/>
<rect x="726" y="92" width="1" height="1"/>
<rect x="728" y="87" width="1" height="1"/>
<rect x="736" y="37" width="1" height="1"/>
<rect x="738" y="42" width="1" height="1"/>
<rect x="760" y="25" width="1" height="1"/>
<rect x="762" y="24" width="1" height="1"/>
<rect x="770" y="31" width="1" height="1"/>
<rect x="772" y="32" width="1" height="1"/>
<rect x="794" y="37" width="1" height="1"/>
<rect x="796" y="37" width="1" height="1"/>
<rect x="804" y="34" width="1" height="1"/>
<rect x="806" y="36" width="1" height="1"/>
<rect x="828" y="55" width="1" height="1"/>
<rect x="830" y="61" width="1" height="1"/>
<rect x="838" y="59" width="1" height="1"/>
<rect x="840" y="57" width="1" height="1"/>
<rect x="852" y="48" width="1" height="1"/>
<rect x="854" y="47" width="1" height="1"/>
<rect x="862" y="57" width="1" height="1"/>
<rect x="864" y="53" width="1" height="1"/>
<rect x="872" y="59" width="1" height="1"/>
<rect x="874" y="62" width="1" height="1"/>
<rect x="886" y="101" width="1" height="1"/>
<rect x="888" y="97" width="1" height="1"/>
<rect x="896" y="81" width="1" height="1"/>
<rect x="898" y="83" width="1" height="1"/>
<rect x="906" y="86" width="1" height="1"/>
<rect x="908" y="79" width="1" height="1"/>
<rect x="920" y="102" width="1" height="1"/>
<rect x="922" y="111" width="1" height="1"/>
<rect x="930" y="101" width="1" height="1"/>
<rect x="932" y="99" width="1" height="1"/>
<rect x="954" y="88" width="1" height="1"/>
<rect x="956" y="80" width="1" height="1"/>
<rect x="964" y="81" width="1" height="1"/>
<rect x="966" y="79" width="1" height="1"/>
<rect x="988" y="64" width="1" height="1"/>
<rect x="990" y="64" width="1" height="1"/>
<rect x="998" y="96" width="1" height="1"/>
<rect x="1000" y="88" width="1" height="1"/>
<rect x="1022" y="124" width="1" height="1"/>
<rect x="1024" y="126" width="1" height="1"/>
<rect x="1032" y="123" width="1" height="1"/>
<rect x="1034" y="122" width="1" height="1"/>
<rect x="1046" y="111" width="1" height="1"/>
<rect x="1048" y="121" width="1" height="1"/>
<rect x="1056" y="135" width="1" height="1"/>
<rect x="1058" y="131" width="1" height="1"/>
<rect x="1066" y="97" width="1" height="1"/>
<rect x="1068" y="99" width="1" height="1"/>
<rect x="1080" y="96" width="1" height="1"/>
<rect x="1082" y="100" width="1" height="1"/>
<rect x="1090" y="91" width="1" height="1"/>
<rect x="1092" y="93" width="1" height="1"/>
<rect x="1100" y="83" width="1" height="1"/>
<rect x="1102" y="82" width="1" height="1"/>
<rect x="1114" y="88" width="1" height="1"/>
<rect x="1116" y="91" width="1" height="1"/>
<rect x="1124" y="87" width="1" height="1"/>
<rect x="1126" y="88" width="1" height="1"/>
<rect x="1148" y="84" width="1" height="1"/>
<rect x="1150" y="87" width="1" height="1"/>
<rect x="1158" y="93" width="1" height="1"/>
<rect x="1160" y="93" width="1" height="1"/>
<rect x="1182" y="107" width="1" height="1"/>
<rect x="1184" y="102" width="1" height="1"/>
<rect x="1192" y="101" width="1" height="1"/>
<rect x="1194" y="103" width="1" height="1"/>
<rect x="1216" y="98" width="1" height="1"/>
<rect x="1218" y="101" width="1" height="1"/>
<rect x="1226" y="113" width="1" height="1"/>
<rect x="1228" y="116" width="1" height="1"/>
<rect x="1250" y="108" width="1" height="1"/>
<rect x="1252" y="107" width="1" height="1"/>
<rect x="1260" y="122" width="1" height="1"/>
<rect x="1262" y="130" width="1" height="1"/>
<rect x="1274" y="124" width="1" height="1"/>
<rect x="1276" y="128" width="1" height="1"/>
</g>
<polyline points="81.2,165.8 95.0,163.0 110.0,160.0 117.5,158.8 140.0,158.2 180.0,157.5 185.0,155.8 192.5,155.5 197.5,153.8 222.5,153.8" fill="none" stroke="#22b14c" stroke-width="2" stroke-linejoin="round" stroke-linecap="round" shape-rendering="crispEdges"/>
<polyline points="222.5,154.5 245.0,155.0 252.5,157.0 270.0,160.0 282.5,161.2 302.5,163.8 320.0,167.0 333.5,170.0 334.0,171.2 346.5,173.2 359.0,174.5 364.0,176.8 384.0,180.0 392.8,181.2 401.0,185.0" fill="none" stroke="#000" stroke-width="2" stroke-linejoin="round" stroke-linecap="round" shape-rendering="crispEdges"/>
<polyline points="43.8,298.8 50.0,296.2 57.5,291.2 67.5,287.5 82.5,281.2 100.0,275.0 120.0,266.2 140.0,257.5 160.0,250.0 180.0,241.2 190.0,237.0 198.2,234.5" fill="none" stroke="#22b14c" stroke-width="2" stroke-linejoin="round" stroke-linecap="round" shape-rendering="crispEdges"/>
<polyline points="198.2,234.5 207.5,235.8 230.0,238.8 250.0,245.0 265.0,250.0 280.0,253.0 300.0,256.2 315.0,259.5 322.0,261.8" fill="none" stroke="#000" stroke-width="2" stroke-linejoin="round" stroke-linecap="round" shape-rendering="crispEdges"/>
<polyline points="401.0,185.0 416.5,179.5 434.0,172.5 446.5,167.0 464.0,159.5 474.0,151.2 481.5,148.8 489.0,147.5 509.0,140.0 531.5,127.5 546.5,120.0 564.0,113.8 576.5,107.5 586.5,102.0 591.0,100.0 614.5,90.0 638.8,79.5 657.0,75.0 666.0,73.5 679.7,66.7 688.8,60.6 705.5,48.2 720.6,41.7 734.2,35.6 746.4,25.8 756.5,18.5" fill="none" stroke="#22b14c" stroke-width="2" stroke-linejoin="round" stroke-linecap="round" shape-rendering="crispEdges"/>
<polyline points="324.5,263.8 333.5,258.8 334.0,258.8 344.0,252.5 359.0,247.5 371.5,242.5 384.0,237.0 404.0,228.8 414.0,223.8 424.0,222.5 446.5,222.0 454.0,220.0 491.5,219.5 509.0,217.5 524.0,214.5 551.5,213.0 553.5,214.5 559.0,211.2 581.5,208.8 591.5,206.2 604.0,200.8 616.5,196.2 629.0,191.2 641.5,186.2 649.0,181.2 659.0,176.2 667.5,173.2 688.0,164.5 701.8,157.5 703.0,158.8 718.0,146.2 738.0,131.2 750.5,124.2 768.0,112.5 788.0,96.2 805.5,85.0 820.5,76.2 833.0,66.2" fill="none" stroke="#22b14c" stroke-width="2" stroke-linejoin="round" stroke-linecap="round" shape-rendering="crispEdges"/>
<polyline points="757.5,14.5 770.5,15.5 784.2,18.8 800.5,19.2 818.0,22.5 833.0,25.5 843.0,26.2 855.5,28.8 868.0,31.2 879.2,32.5 893.0,35.8 903.0,38.8 918.0,44.5 930.5,50.0 943.0,53.8 960.5,58.0 975.5,59.2 990.5,60.0 1001.5,60.8 1010.0,63.0 1025.0,67.0 1040.0,69.5 1057.5,71.2 1072.5,73.8 1087.5,75.0 1097.5,77.0 1103.8,78.2" fill="none" stroke="#880015" stroke-width="2" stroke-linejoin="round" stroke-linecap="round" shape-rendering="crispEdges"/>
<polyline points="833.0,68.0 843.0,77.5 855.5,88.0 868.0,93.8 875.5,100.0 883.0,110.0 886.8,115.0 894.2,118.2 910.5,121.8 928.0,124.5 943.0,127.0 968.0,131.8 985.5,134.2 995.5,136.8 1001.5,136.8 1012.5,137.5 1022.0,139.2" fill="none" stroke="#880015" stroke-width="2" stroke-linejoin="round" stroke-linecap="round" shape-rendering="crispEdges"/>
<polyline points="0.0,533.8 7.5,525.0 15.0,516.2 22.5,512.5 28.8,512.5 33.8,518.8 38.8,516.2 43.8,520.0 48.8,521.2 53.8,507.5 60.0,492.5 66.2,480.0 72.5,460.0 77.5,435.0 82.5,412.5 86.2,401.2 91.2,396.2 96.2,393.8 100.0,397.5 105.0,405.0 112.5,413.8 120.0,422.5 127.5,436.2 135.0,451.2 142.5,467.5 150.0,480.0 157.5,490.0 165.0,500.0 170.0,502.5 175.0,498.8 180.0,495.0 186.2,493.8 191.2,497.5 196.2,505.0 201.2,510.0 205.0,513.0 208.8,507.5 212.5,492.5 216.2,475.0 220.0,457.5 223.8,440.0 227.5,427.5 231.2,421.2 236.2,420.0 240.0,423.8 245.0,433.8 250.0,443.8 255.0,450.0 260.0,456.2 265.0,462.5 270.0,470.0 275.0,480.0 278.8,492.5 282.5,505.0 286.2,515.0 291.2,522.5 296.2,527.5 302.5,531.2 308.8,535.0 313.8,542.5 318.8,553.8 323.8,560.0 328.8,562.5 333.5,558.8 334.0,558.8 341.5,550.0 347.8,535.0 354.0,520.0 359.0,512.5 365.2,508.8 370.2,500.0 375.2,485.0 380.2,470.0 386.5,460.0 392.8,450.0 399.0,440.0 404.0,432.5 409.0,429.5 414.0,430.5 419.0,432.5 424.0,442.5 427.8,452.5 432.8,462.5 437.8,467.5 441.5,466.2 445.2,460.0 449.0,450.0 454.0,441.2 461.5,437.5 467.8,435.0 474.0,428.8 480.2,423.8 485.2,421.2 489.0,422.5 494.0,428.8 499.0,437.5 505.2,448.8 511.5,456.2 517.8,458.8 524.0,465.0 530.2,473.8 535.2,483.8 540.2,495.0 546.5,507.5 552.8,520.0 557.8,527.5 561.5,530.0 565.2,525.0 570.2,512.5 575.2,497.5 580.2,485.0 585.2,478.8 591.5,478.8 597.8,480.0 604.0,482.0 610.2,482.0 616.5,481.2 621.5,477.5 626.5,473.8 631.5,471.2 636.5,466.2 641.5,461.2 646.5,460.0 651.5,460.0 656.5,456.2 661.5,450.0 665.2,440.0 667.5,432.5 668.0,420.0 671.8,395.0 675.5,375.0 679.2,362.5 683.0,360.0 686.8,366.2 691.8,376.2 696.8,382.5 700.5,390.0 703.0,402.5 706.8,420.0 710.5,432.5 715.5,440.0 720.5,440.0 725.5,436.2 729.2,425.0 733.0,407.5 738.0,390.0 743.0,382.5 748.0,380.0 753.0,381.2 758.0,378.8 763.0,376.2 768.0,380.0 773.0,388.8 778.0,400.0 783.0,417.5 788.0,433.8 793.0,447.5 798.0,455.0 804.2,458.8 809.2,461.2 814.2,467.5 819.2,476.2 825.5,482.5 830.5,490.0 835.5,500.0 840.5,505.0 845.5,507.5 851.8,502.5 856.8,495.0 861.8,492.5 868.0,490.0 873.0,491.2 878.0,495.0 881.8,500.0 884.2,510.0 888.0,520.0 891.8,530.0 896.8,535.0 901.8,537.5 906.8,533.8 911.8,527.5 915.5,526.2 920.5,530.0 925.5,533.8 930.5,535.0 936.8,535.5 943.0,533.8 948.0,527.5 953.0,517.5 958.0,505.0 963.0,492.5 968.0,480.0 973.0,467.5 978.0,456.2 983.0,447.5 988.0,442.5 991.8,445.0 995.5,456.2 999.2,468.8 1001.5,472.5 1002.5,482.5 1007.5,505.0 1015.0,530.0 1022.5,545.0 1028.8,550.0 1032.5,551.2 1037.5,542.5 1043.8,527.5 1050.0,520.0 1056.2,521.2 1062.5,518.8 1067.5,505.0 1072.5,487.5 1077.5,472.5 1082.5,462.5 1090.0,456.2 1097.5,448.8 1103.8,443.8 1108.8,443.0 1113.8,446.2 1120.0,452.5 1127.5,460.0 1135.0,466.2 1142.5,471.2 1150.0,473.8 1157.5,480.0 1165.0,487.5 1172.5,492.5 1177.5,493.8 1182.5,498.8 1187.5,501.2 1193.8,500.0 1200.0,500.0 1207.5,502.5 1213.8,502.5 1220.0,498.8 1226.2,500.0 1232.5,505.0 1238.8,508.8 1243.8,513.8 1247.5,516.2 1251.2,512.5 1256.2,506.2 1262.5,502.5 1268.8,501.2 1273.8,498.8 1277.5,500.0 1280.0,503.8 1281.6,510.0 1284.0,529.0 1287.0,544.0 1289.8,552.0 1292.0,555.0" fill="none" stroke="#c0c0c0" stroke-width="1" stroke-linejoin="round" stroke-linecap="round" shape-rendering="crispEdges"/>
<polyline points="0.0,518.8 10.0,520.0 12.5,513.8 17.5,507.5 25.0,507.5 30.0,511.2 33.8,522.5 35.0,526.2 36.8,516.2 39.2,517.5 41.2,526.2 43.8,535.0 46.2,522.5 47.5,520.0 50.0,505.0 53.8,482.5 60.0,475.0 67.5,467.5 71.2,447.5 75.0,417.5 78.8,390.0 82.5,380.0 85.8,375.5 88.8,385.0 91.2,392.5 96.2,391.2 98.8,395.0 102.5,405.0 107.5,420.0 111.2,423.8 117.5,425.0 121.2,432.5 127.5,447.5 133.8,460.0 137.5,470.0 142.5,485.0 147.5,492.5 152.5,500.0 157.5,503.8 162.5,507.5 166.2,509.5 170.0,505.0 172.5,496.2 177.5,491.2 182.5,490.5 186.2,491.2 190.0,496.2 192.5,505.0 196.2,513.8 200.0,518.0 203.8,518.8 206.2,512.5 207.5,500.0 210.0,480.0 212.5,465.0 216.2,445.0 220.0,430.0 223.8,413.8 226.2,406.2 229.2,402.5 232.5,410.0 236.2,418.8 240.0,427.5 243.8,442.5 247.5,456.2 251.2,460.0 253.8,456.2 257.5,460.0 261.2,462.5 265.0,467.5 268.8,475.0 271.2,482.5 273.8,492.5 276.2,502.5 278.0,512.5 278.8,518.8 282.5,527.5 286.2,533.8 292.5,537.5 297.5,535.0 301.2,531.2 306.2,536.2 310.0,541.2 313.8,552.5 317.5,563.8 321.2,574.5 325.0,567.5 328.8,557.5 333.5,552.5 334.0,552.5 339.0,545.0 342.8,541.2 345.2,532.5 349.0,517.5 352.8,506.2 356.5,498.8 360.2,500.0 364.0,503.8 367.8,496.2 371.5,480.0 375.2,461.2 377.8,452.5 380.2,450.5 384.0,452.5 387.8,448.8 392.8,443.8 396.5,435.0 400.2,428.8 405.2,423.8 407.8,421.2 410.2,428.8 414.0,434.5 417.8,435.0 420.2,440.0 422.8,452.5 425.2,463.8 429.0,473.8 432.8,478.8 436.5,475.5 440.2,468.8 442.8,455.0 445.2,440.0 447.8,430.5 451.5,428.0 456.5,430.0 461.5,435.0 465.2,438.0 469.0,430.0 471.5,428.8 474.0,423.8 476.5,413.2 479.0,414.5 481.5,417.0 484.0,420.0 485.2,421.2 490.2,430.0 494.0,437.5 497.8,445.0 501.5,453.8 505.2,461.2 509.0,461.2 512.8,458.8 517.8,461.2 521.5,466.2 525.2,473.8 529.0,481.2 532.8,490.0 536.5,497.5 541.5,507.5 546.5,520.0 550.2,530.0 554.5,539.5 560.2,526.2 565.2,515.0 570.2,497.5 574.0,483.8 577.8,473.8 581.5,469.5 584.0,472.5 586.5,477.0 590.2,478.0 594.0,476.2 596.5,480.0 600.2,481.2 605.2,482.5 609.0,481.2 612.8,480.5 616.5,480.0 620.2,473.8 624.0,470.0 627.8,469.5 631.5,465.0 635.2,460.0 637.8,456.2 642.8,453.8 646.5,458.8 649.0,461.2 651.5,457.0 655.2,453.8 659.0,448.8 661.0,435.0 662.8,420.0 664.0,407.5 666.0,385.0 667.2,376.2 668.0,375.0 671.8,361.2 675.5,347.5 679.2,332.5 681.8,350.0 684.2,367.5 688.0,380.0 691.8,388.8 695.0,395.0 697.5,390.5 700.0,395.0 701.8,412.5 704.2,437.5 706.8,457.5 709.2,458.8 714.2,452.5 718.0,445.0 721.8,430.0 725.5,428.8 728.0,420.0 730.5,395.0 733.5,377.5 736.8,370.0 740.5,366.2 741.8,365.0 745.5,375.0 749.2,383.8 753.0,381.2 755.5,373.8 758.5,371.2 761.8,373.8 765.5,381.2 770.5,395.0 775.5,407.5 779.2,425.0 783.0,442.5 786.8,455.0 789.2,461.2 793.0,463.8 796.8,466.2 800.5,465.0 804.2,463.0 809.2,464.5 813.0,472.5 816.8,483.8 820.5,487.0 825.5,488.0 828.0,495.0 831.8,506.2 835.5,513.8 838.0,516.2 843.0,511.2 848.0,505.0 853.0,493.8 855.5,485.0 858.0,481.2 861.8,486.2 864.2,489.5 866.8,486.2 869.2,484.5 871.8,490.0 875.5,495.0 878.0,493.8 880.0,487.5 881.8,505.0 883.5,520.0 885.5,532.5 888.0,545.0 890.5,555.0 894.2,545.0 898.0,542.5 903.0,538.8 906.8,530.0 909.2,521.2 911.8,518.8 915.5,517.5 918.0,525.0 921.8,536.2 925.5,541.2 929.2,540.0 933.0,536.2 938.0,535.5 941.8,533.8 944.2,530.0 946.8,522.5 949.2,513.8 951.8,510.0 955.5,495.0 959.2,482.5 963.0,473.8 966.8,463.8 970.5,457.5 973.0,456.2 975.5,447.5 978.0,440.0 981.8,437.5 984.2,436.2 987.5,433.8 990.5,437.5 993.0,447.5 995.5,465.0 998.0,480.0 1000.5,492.5 1001.5,495.0 1002.5,505.0 1005.0,520.0 1010.0,535.0 1015.0,547.5 1020.0,557.5 1022.5,560.0 1027.5,558.8 1032.5,552.5 1036.2,537.5 1040.0,520.0 1042.5,512.5 1045.8,509.2 1048.8,512.5 1052.5,522.5 1056.2,525.0 1059.2,528.8 1062.0,517.5 1064.5,500.0 1067.5,480.0 1071.2,462.5 1075.0,450.0 1078.0,446.2 1081.2,450.0 1085.0,455.5 1088.8,451.2 1091.2,452.5 1095.0,447.5 1100.0,440.5 1105.0,438.0 1106.8,437.5 1110.0,443.8 1115.0,450.0 1120.0,458.8 1125.0,463.8 1130.0,467.5 1135.0,475.0 1140.0,473.8 1147.5,472.5 1152.5,477.5 1157.5,485.0 1162.5,493.8 1167.5,501.2 1171.2,498.8 1173.8,493.8 1175.0,486.2 1177.5,496.2 1181.2,506.2 1183.8,509.5 1187.5,502.5 1191.2,498.8 1197.5,498.8 1202.5,501.2 1207.5,505.0 1210.0,507.5 1213.8,501.2 1217.5,493.8 1221.2,490.5 1223.8,496.2 1227.5,502.5 1232.5,507.5 1236.2,508.8 1240.0,517.5 1243.8,524.5 1246.2,522.5 1250.0,510.0 1253.8,502.5 1257.5,501.2 1262.5,500.0 1267.5,501.2 1270.0,498.8 1271.2,492.5 1273.8,491.2 1276.2,500.0 1278.8,505.0 1280.5,510.0 1283.0,534.6 1285.0,583.7 1287.3,609.6 1289.0,589.0 1291.0,562.0 1293.0,542.8 1295.0,530.5" fill="none" stroke="#008000" stroke-width="1" stroke-linejoin="round" stroke-linecap="round" shape-rendering="crispEdges"/>
<polyline points="85.8,375.5 100.0,377.0 110.0,379.5 120.0,380.5 140.0,384.5 160.0,387.0 180.0,390.0 200.0,393.8 217.5,397.5 229.2,402.0 232.5,405.5 247.5,408.8 265.0,411.2 280.0,412.5 290.0,415.0 307.5,416.2 312.5,418.0 334.0,417.5 364.0,417.5 369.0,419.5 379.0,420.5 382.8,421.8 399.0,422.5 405.2,423.8" fill="none" stroke="#000" stroke-width="2" stroke-linejoin="round" stroke-linecap="round" shape-rendering="crispEdges"/>
<polyline points="43.0,536.2 55.0,534.5 67.5,533.0 82.5,528.0 100.0,524.5 107.5,522.5 120.0,517.5 140.0,513.0 160.0,509.5 172.5,506.8 181.2,504.5" fill="none" stroke="#22b14c" stroke-width="2" stroke-linejoin="round" stroke-linecap="round" shape-rendering="crispEdges"/>
<polyline points="200.0,521.2 212.5,527.0 225.0,530.0 243.8,538.2 252.5,539.5 265.0,545.0 282.5,551.2 302.5,560.0 310.0,565.0 321.2,574.5" fill="none" stroke="#000" stroke-width="2" stroke-linejoin="round" stroke-linecap="round" shape-rendering="crispEdges"/>
<polyline points="321.2,574.5 334.0,562.5 346.5,553.8 359.0,543.8 379.0,527.5 394.0,516.2 406.5,507.5 419.0,496.2 429.0,486.2 434.0,480.0" fill="none" stroke="#22b14c" stroke-width="2" stroke-linejoin="round" stroke-linecap="round" shape-rendering="crispEdges"/>
<polyline points="434.0,480.0 444.0,484.5 464.0,493.8 484.0,502.5 511.5,515.0 524.0,519.5 534.0,525.0 546.5,533.0 555.2,538.8" fill="none" stroke="#000" stroke-width="2" stroke-linejoin="round" stroke-linecap="round" shape-rendering="crispEdges"/>
<polyline points="555.2,539.5 564.0,532.5 576.5,523.8 594.0,513.8 609.0,506.2 624.0,498.8 634.0,492.5 644.0,485.5 654.0,480.0 667.5,474.5 680.5,466.2 693.0,462.5 706.8,458.0" fill="none" stroke="#22b14c" stroke-width="2" stroke-linejoin="round" stroke-linecap="round" shape-rendering="crispEdges"/>
<polyline points="404.0,420.0 435.2,419.2 456.5,418.2 464.0,416.2 474.0,415.0 484.0,415.0 494.0,411.2 511.5,403.8 521.5,396.2 531.5,389.5 539.0,386.2 559.0,378.0 574.0,372.5 584.0,370.0 594.0,366.2 604.0,360.5 616.5,356.2 626.5,351.2 639.0,347.0 654.0,340.5 667.5,336.2 679.2,333.8" fill="none" stroke="#22b14c" stroke-width="2" stroke-linejoin="round" stroke-linecap="round" shape-rendering="crispEdges"/>
<polyline points="679.2,333.8 688.0,342.0 700.5,348.0 720.5,355.0 733.0,361.2 744.2,365.0" fill="none" stroke="#000" stroke-width="2" stroke-linejoin="round" stroke-linecap="round" shape-rendering="crispEdges"/>
<polyline points="744.2,365.5 760.5,366.8 775.5,370.5 784.2,371.2 790.5,373.2 808.0,377.5 825.5,381.2 843.0,386.2 855.5,390.8 870.5,394.2 880.5,398.0 893.0,402.5 905.5,406.2 915.5,408.0 925.5,413.0 938.0,417.5 945.5,420.0 951.8,420.8 963.0,424.5 975.5,427.5 984.2,431.2 988.0,433.8 1001.5,433.8 1025.0,434.2 1045.0,436.8 1065.0,437.5 1085.0,438.0 1103.8,438.2" fill="none" stroke="#880015" stroke-width="2" stroke-linejoin="round" stroke-linecap="round" shape-rendering="crispEdges"/>
<polyline points="705.5,464.5 720.5,470.8 728.0,472.5 743.0,478.0 755.5,482.0 768.0,485.5 775.5,487.5 788.0,492.0 805.5,498.8 823.0,506.2 833.0,510.0 837.5,511.5" fill="none" stroke="#000" stroke-width="2" stroke-linejoin="round" stroke-linecap="round" shape-rendering="crispEdges"/>
<polyline points="836.0,515.0 840.5,519.5 848.0,525.0 858.0,532.5 866.8,538.8 873.0,541.2 879.2,545.5 884.2,550.5 888.0,554.2 890.5,555.5 918.0,555.8 938.0,555.8 945.5,557.5 958.0,559.2 980.5,559.2 985.5,558.8 1001.5,558.8 1010.0,560.0 1022.5,563.8" fill="none" stroke="#880015" stroke-width="2" stroke-linejoin="round" stroke-linecap="round" shape-rendering="crispEdges"/>
<circle cx="2.0" cy="518.8" r="2.3" fill="#00ff00"/>
<path d="M-1.5 518.8h7M2.0 515.2v7M-0.5 516.2l5 5M-0.5 521.2l5 -5" stroke="#00ff00" stroke-width="1" fill="none"/>
<circle cx="5.0" cy="519.5" r="2.3" fill="#00ff00"/>
<path d="M1.5 519.5h7M5.0 516.0v7M2.5 517.0l5 5M2.5 522.0l5 -5" stroke="#00ff00" stroke-width="1" fill="none"/>
<circle cx="8.0" cy="520.0" r="2.3" fill="#00ff00"/>
<path d="M4.5 520.0h7M8.0 516.5v7M5.5 517.5l5 5M5.5 522.5l5 -5" stroke="#00ff00" stroke-width="1" fill="none"/>
<circle cx="10.0" cy="518.0" r="2.3" fill="#00ff00"/>
<path d="M6.5 518.0h7M10.0 514.5v7M7.5 515.5l5 5M7.5 520.5l5 -5" stroke="#00ff00" stroke-width="1" fill="none"/>
<circle cx="12.0" cy="513.8" r="2.3" fill="#00ff00"/>
<path d="M8.5 513.8h7M12.0 510.2v7M9.5 511.2l5 5M9.5 516.2l5 -5" stroke="#00ff00" stroke-width="1" fill="none"/>
<circle cx="14.5" cy="510.0" r="2.3" fill="#00ff00"/>
<path d="M11.0 510.0h7M14.5 506.5v7M12.0 507.5l5 5M12.0 512.5l5 -5" stroke="#00ff00" stroke-width="1" fill="none"/>
<circle cx="17.0" cy="508.0" r="2.3" fill="#00ff00"/>
<path d="M13.5 508.0h7M17.0 504.5v7M14.5 505.5l5 5M14.5 510.5l5 -5" stroke="#00ff00" stroke-width="1" fill="none"/>
<circle cx="19.5" cy="507.0" r="2.3" fill="#00ff00"/>
<path d="M16.0 507.0h7M19.5 503.5v7M17.0 504.5l5 5M17.0 509.5l5 -5" stroke="#00ff00" stroke-width="1" fill="none"/>
<circle cx="22.0" cy="507.5" r="2.3" fill="#00ff00"/>
<path d="M18.5 507.5h7M22.0 504.0v7M19.5 505.0l5 5M19.5 510.0l5 -5" stroke="#00ff00" stroke-width="1" fill="none"/>
<circle cx="24.5" cy="507.5" r="2.3" fill="#00ff00"/>
<path d="M21.0 507.5h7M24.5 504.0v7M22.0 505.0l5 5M22.0 510.0l5 -5" stroke="#00ff00" stroke-width="1" fill="none"/>
<circle cx="27.0" cy="508.8" r="2.3" fill="#00ff00"/>
<path d="M23.5 508.8h7M27.0 505.2v7M24.5 506.2l5 5M24.5 511.2l5 -5" stroke="#00ff00" stroke-width="1" fill="none"/>
<circle cx="29.5" cy="511.2" r="2.3" fill="#00ff00"/>
<path d="M26.0 511.2h7M29.5 507.8v7M27.0 508.8l5 5M27.0 513.8l5 -5" stroke="#00ff00" stroke-width="1" fill="none"/>
<circle cx="31.5" cy="513.8" r="2.3" fill="#00ff00"/>
<path d="M28.0 513.8h7M31.5 510.2v7M29.0 511.2l5 5M29.0 516.2l5 -5" stroke="#00ff00" stroke-width="1" fill="none"/>
<circle cx="627.0" cy="469.5" r="2.3" fill="#00ff00"/>
<path d="M623.5 469.5h7M627.0 466.0v7M624.5 467.0l5 5M624.5 472.0l5 -5" stroke="#00ff00" stroke-width="1" fill="none"/>
<circle cx="661.0" cy="434.5" r="2.3" fill="#00ff00"/>
<path d="M657.5 434.5h7M661.0 431.0v7M658.5 432.0l5 5M658.5 437.0l5 -5" stroke="#00ff00" stroke-width="1" fill="none"/>
<circle cx="940.5" cy="535.5" r="2.3" fill="#00ff00"/>
<path d="M937.0 535.5h7M940.5 532.0v7M938.0 533.0l5 5M938.0 538.0l5 -5" stroke="#00ff00" stroke-width="1" fill="none"/>
<circle cx="943.0" cy="533.0" r="2.3" fill="#00ff00"/>
<path d="M939.5 533.0h7M943.0 529.5v7M940.5 530.5l5 5M940.5 535.5l5 -5" stroke="#00ff00" stroke-width="1" fill="none"/>
<circle cx="945.5" cy="531.2" r="2.3" fill="#00ff00"/>
<path d="M942.0 531.2h7M945.5 527.8v7M943.0 528.8l5 5M943.0 533.8l5 -5" stroke="#00ff00" stroke-width="1" fill="none"/>
<circle cx="1053.0" cy="522.5" r="2.3" fill="#00ff00"/>
<path d="M1049.5 522.5h7M1053.0 519.0v7M1050.5 520.0l5 5M1050.5 525.0l5 -5" stroke="#00ff00" stroke-width="1" fill="none"/>
<circle cx="1176.2" cy="492.5" r="2.3" fill="#00ff00"/>
<path d="M1172.8 492.5h7M1176.2 489.0v7M1173.8 490.0l5 5M1173.8 495.0l5 -5" stroke="#00ff00" stroke-width="1" fill="none"/>
<circle cx="1196.8" cy="500.5" r="2.3" fill="#00ff00"/>
<path d="M1193.2 500.5h7M1196.8 497.0v7M1194.2 498.0l5 5M1194.2 503.0l5 -5" stroke="#00ff00" stroke-width="1" fill="none"/>
<circle cx="1225.0" cy="500.5" r="2.3" fill="#00ff00"/>
<path d="M1221.5 500.5h7M1225.0 497.0v7M1222.5 498.0l5 5M1222.5 503.0l5 -5" stroke="#00ff00" stroke-width="1" fill="none"/>
<circle cx="1260.0" cy="501.2" r="2.3" fill="#00ff00"/>
<path d="M1256.5 501.2h7M1260.0 497.8v7M1257.5 498.8l5 5M1257.5 503.8l5 -5" stroke="#00ff00" stroke-width="1" fill="none"/>
<circle cx="1262.5" cy="501.8" r="2.3" fill="#00ff00"/>
<path d="M1259.0 501.8h7M1262.5 498.2v7M1260.0 499.2l5 5M1260.0 504.2l5 -5" stroke="#00ff00" stroke-width="1" fill="none"/>
<circle cx="1272.5" cy="493.0" r="2.3" fill="#00ff00"/>
<path d="M1269.0 493.0h7M1272.5 489.5v7M1270.0 490.5l5 5M1270.0 495.5l5 -5" stroke="#00ff00" stroke-width="1" fill="none"/>
<circle cx="1275.0" cy="493.8" r="2.3" fill="#00ff00"/>
<path d="M1271.5 493.8h7M1275.0 490.2v7M1272.5 491.2l5 5M1272.5 496.2l5 -5" stroke="#00ff00" stroke-width="1" fill="none"/>
<circle cx="1277.0" cy="504.5" r="2.3" fill="#00ff00"/>
<path d="M1273.5 504.5h7M1277.0 501.0v7M1274.5 502.0l5 5M1274.5 507.0l5 -5" stroke="#00ff00" stroke-width="1" fill="none"/>
<circle cx="37.5" cy="512.0" r="2.3" fill="#ff0000"/>
<path d="M34.0 512.0h7M37.5 508.5v7M35.0 509.5l5 5M35.0 514.5l5 -5" stroke="#ff0000" stroke-width="1" fill="none"/>
<circle cx="206.5" cy="501.2" r="2.3" fill="#ff0000"/>
<path d="M203.0 501.2h7M206.5 497.8v7M204.0 498.8l5 5M204.0 503.8l5 -5" stroke="#ff0000" stroke-width="1" fill="none"/>
<circle cx="110.8" cy="422.0" r="2.3" fill="#ff0000"/>
<path d="M107.2 422.0h7M110.8 418.5v7M108.2 419.5l5 5M108.2 424.5l5 -5" stroke="#ff0000" stroke-width="1" fill="none"/>
<circle cx="113.8" cy="421.5" r="2.3" fill="#ff0000"/>
<path d="M110.2 421.5h7M113.8 418.0v7M111.2 419.0l5 5M111.2 424.0l5 -5" stroke="#ff0000" stroke-width="1" fill="none"/>
<circle cx="116.8" cy="422.5" r="2.3" fill="#ff0000"/>
<path d="M113.2 422.5h7M116.8 419.0v7M114.2 420.0l5 5M114.2 425.0l5 -5" stroke="#ff0000" stroke-width="1" fill="none"/>
<circle cx="755.0" cy="376.2" r="2.3" fill="#ff0000"/>
<path d="M751.5 376.2h7M755.0 372.8v7M752.5 373.8l5 5M752.5 378.8l5 -5" stroke="#ff0000" stroke-width="1" fill="none"/>
<circle cx="878.8" cy="487.0" r="2.3" fill="#ff0000"/>
<path d="M875.2 487.0h7M878.8 483.5v7M876.2 484.5l5 5M876.2 489.5l5 -5" stroke="#ff0000" stroke-width="1" fill="none"/>
<circle cx="881.0" cy="505.5" r="2.3" fill="#ff0000"/>
<path d="M877.5 505.5h7M881.0 502.0v7M878.5 503.0l5 5M878.5 508.0l5 -5" stroke="#ff0000" stroke-width="1" fill="none"/>
<circle cx="1175.0" cy="482.0" r="2.3" fill="#ff0000"/>
<path d="M1171.5 482.0h7M1175.0 478.5v7M1172.5 479.5l5 5M1172.5 484.5l5 -5" stroke="#ff0000" stroke-width="1" fill="none"/>
<circle cx="1215.0" cy="499.2" r="2.3" fill="#ff0000"/>
<path d="M1211.5 499.2h7M1215.0 495.8v7M1212.5 496.8l5 5M1212.5 501.8l5 -5" stroke="#ff0000" stroke-width="1" fill="none"/>
<path d="M51.0 259.0l3 2.8v5.2h-6v-5.2z" fill="#008000"/>
<path d="M51.0 243.5l2 2l-2 2l-2 -2z" fill="#008000"/>
<path d="M711.0 110.0l3 2.8v5.2h-6v-5.2z" fill="#008000"/>
<path d="M711.0 97.5l2 2l-2 2l-2 -2z" fill="#008000"/>
<path d="M855.0 49.0l3 2.8v5.2h-6v-5.2z" fill="#008000"/>
<path d="M855.0 38.5l2 2l-2 2l-2 -2z" fill="#008000"/>
<path d="M716.9 86.3l2.3 -1.8l2.3 1.8l-2.3 1.8z" fill="#ff0000"/>
<path d="M663 101.4l2.3 -1.8l2.3 1.8l-2.3 1.8z" fill="#ff0000"/>
<path d="M0 641h50l7 7.5l-7 7.5h-50z" fill="#000"/>
<rect x="1295" y="641" width="39" height="15" fill="#000"/>
<path d="M1297 126.5l5.5 -5.5h32v11h-32z" fill="#000"/>
<rect x="1293" y="125" width="5" height="1" fill="#000"/>
<path d="M1284.5 314.5l4 -4l4 4M1284.5 318.5l4 -4l4 4" fill="none" stroke="#000" stroke-width="1.8"/>
<circle cx="1044.6" cy="-3.4" r="10.6" fill="#bcbcbc"/>
<circle cx="1044.6" cy="-3.4" r="9.4" fill="#d0d0d0"/>
<circle cx="1069.5" cy="-3.4" r="10.6" fill="#bcbcbc"/>
<circle cx="1069.5" cy="-3.4" r="9.4" fill="#d0d0d0"/>
<circle cx="1094.5" cy="-3.4" r="10.6" fill="#bcbcbc"/>
<circle cx="1094.5" cy="-3.4" r="9.4" fill="#d0d0d0"/>
<circle cx="1119.4" cy="-3.4" r="10.6" fill="#bcbcbc"/>
<circle cx="1119.4" cy="-3.4" r="9.4" fill="#d0d0d0"/>
<circle cx="1144.3" cy="-3.4" r="10.6" fill="#bcbcbc"/>
<circle cx="1144.3" cy="-3.4" r="9.4" fill="#d0d0d0"/>
<circle cx="1169.2" cy="-3.4" r="10.6" fill="#bcbcbc"/>
<circle cx="1169.2" cy="-3.4" r="9.4" fill="#d0d0d0"/>
<circle cx="1194.2" cy="-3.4" r="10.6" fill="#bcbcbc"/>
<circle cx="1194.2" cy="-3.4" r="9.4" fill="#d0d0d0"/>
<circle cx="1219.1" cy="-3.4" r="10.6" fill="#bcbcbc"/>
<circle cx="1219.1" cy="-3.4" r="9.4" fill="#d0d0d0"/>
<circle cx="1244.0" cy="-3.4" r="10.6" fill="#bcbcbc"/>
<circle cx="1244.0" cy="-3.4" r="9.4" fill="#d0d0d0"/>
<circle cx="1269.0" cy="-3.4" r="10.6" fill="#bcbcbc"/>
<circle cx="1269.0" cy="-3.4" r="9.4" fill="#d0d0d0"/>
<path d="M1043.6 -9L1043.6 3L1037.6 -3zM1051.9 -9L1051.9 3L1045.9 -3z" fill="#555"/>
<path d="M1072.9 -9L1072.9 3L1066.9 -3z" fill="#555"/>
<path d="M1091.1 -9L1091.1 3L1097.1 -3z" fill="#555"/>
<path d="M1112.2 -9L1112.2 3L1118.2 -3zM1120.2 -9L1120.2 3L1126.2 -3z" fill="#555"/>
<circle cx="1144" cy="-3" r="6.2" fill="none" stroke="#555" stroke-width="1.2"/>
<rect x="1143.4" y="-4" width="1.4" height="5" fill="#555"/>
<circle cx="1169.6" cy="-4" r="7.3" fill="none" stroke="#555" stroke-width="1.2"/>
<path d="M1187.6 -9L1187.6 3L1193.6 -3z" fill="#555"/><rect x="1201" y="-6" width="1.3" height="9" fill="#555"/>
<rect x="1218.4" y="-6" width="2" height="10.5" fill="#555"/>
<rect x="1242.3" y="-6" width="4" height="7.6" fill="none" stroke="#555" stroke-width="1.2"/><rect x="1243.7" y="1.6" width="1.4" height="3.2" fill="#555"/>
<path d="M1265.1 -9L1265.1 3L1271.1 -3z" fill="#555"/><rect x="1272.8" y="-6" width="1.3" height="9" fill="#555"/>
</svg>
<div class="t y" style="left:1300px;top:31px">1,24</div>
<div class="t y" style="left:1300px;top:74px">1,238</div>
<div class="t y" style="left:1300px;top:116px">1,236</div>
<div class="t y" style="left:1300px;top:159px">1,234</div>
<div class="t y" style="left:1300px;top:201px">1,232</div>
<div class="t y" style="left:1300px;top:244px">1,23</div>
<div class="t y" style="left:1300px;top:286px">1,228</div>
<div class="t y" style="left:1300px;top:343px">0,001</div>
<div class="t y" style="left:1300px;top:397px">0,0006</div>
<div class="t y" style="left:1300px;top:451px">0,0002</div>
<div class="t y" style="left:1299px;top:504px">-0,0002</div>
<div class="t y" style="left:1299px;top:558px">-0,0006</div>
<div class="t y" style="left:1299px;top:612px">-0,001</div>
<div class="t y" style="left:1303px;top:120px;color:#fff;z-index:3">1,2358</div>
<div class="t x" style="left:4px">14:55</div>
<div class="t x" style="left:54px">17:00</div>
<div class="t x" style="left:96px">19:00</div>
<div class="t x" style="left:144px">21:00</div>
<div class="t x" style="left:192px">23:00</div>
<div class="t x" style="left:236px">11:00</div>
<div class="t x" style="left:284px">13:00</div>
<div class="t x" style="left:330px">15:00</div>
<div class="t x" style="left:378px">17:00</div>
<div class="t x" style="left:420px">19:00</div>
<div class="t x" style="left:468px">21:00</div>
<div class="t x" style="left:516px">23:00</div>
<div class="t x" style="left:560px">11:00</div>
<div class="t x" style="left:608px">13:00</div>
<div class="t x" style="left:654px">15:00</div>
<div class="t x" style="left:702px">17:00</div>
<div class="t x" style="left:744px">19:00</div>
<div class="t x" style="left:792px">21:00</div>
<div class="t x" style="left:840px">23:00</div>
<div class="t x" style="left:884px">11:00</div>
<div class="t x" style="left:932px">13:00</div>
<div class="t x" style="left:978px">15:00</div>
<div class="t x" style="left:1026px">17:00</div>
<div class="t x" style="left:1068px">19:05</div>
<div class="t x" style="left:1114px">21:00</div>
<div class="t x" style="left:1162px">23:00</div>
<div class="t x" style="left:1206px">11:00</div>
<div class="t x" style="left:1254px">13:00</div>
<div class="t x" style="left:1300px">15:00</div>
<div class="t d" style="left:4px;color:#fff">09/03/18</div>
<div class="t d" style="left:212px">12/03/18</div>
<div class="t d" style="left:536px">13/03/18</div>
<div class="t d" style="left:860px">14/03/18</div>
<div class="t d" style="left:1182px">15/03/18</div>
<div class="t d" style="left:1300px;color:#fff">15/03/18</div>
<div class="t" style="left:4px;top:306px;color:#3535ff" id="ml"><span style="letter-spacing:-0.02px">MACDDivergence</span><span style="letter-spacing:-0.5px">(EDH8=ФОРТС)</span></div>
</body></html>
